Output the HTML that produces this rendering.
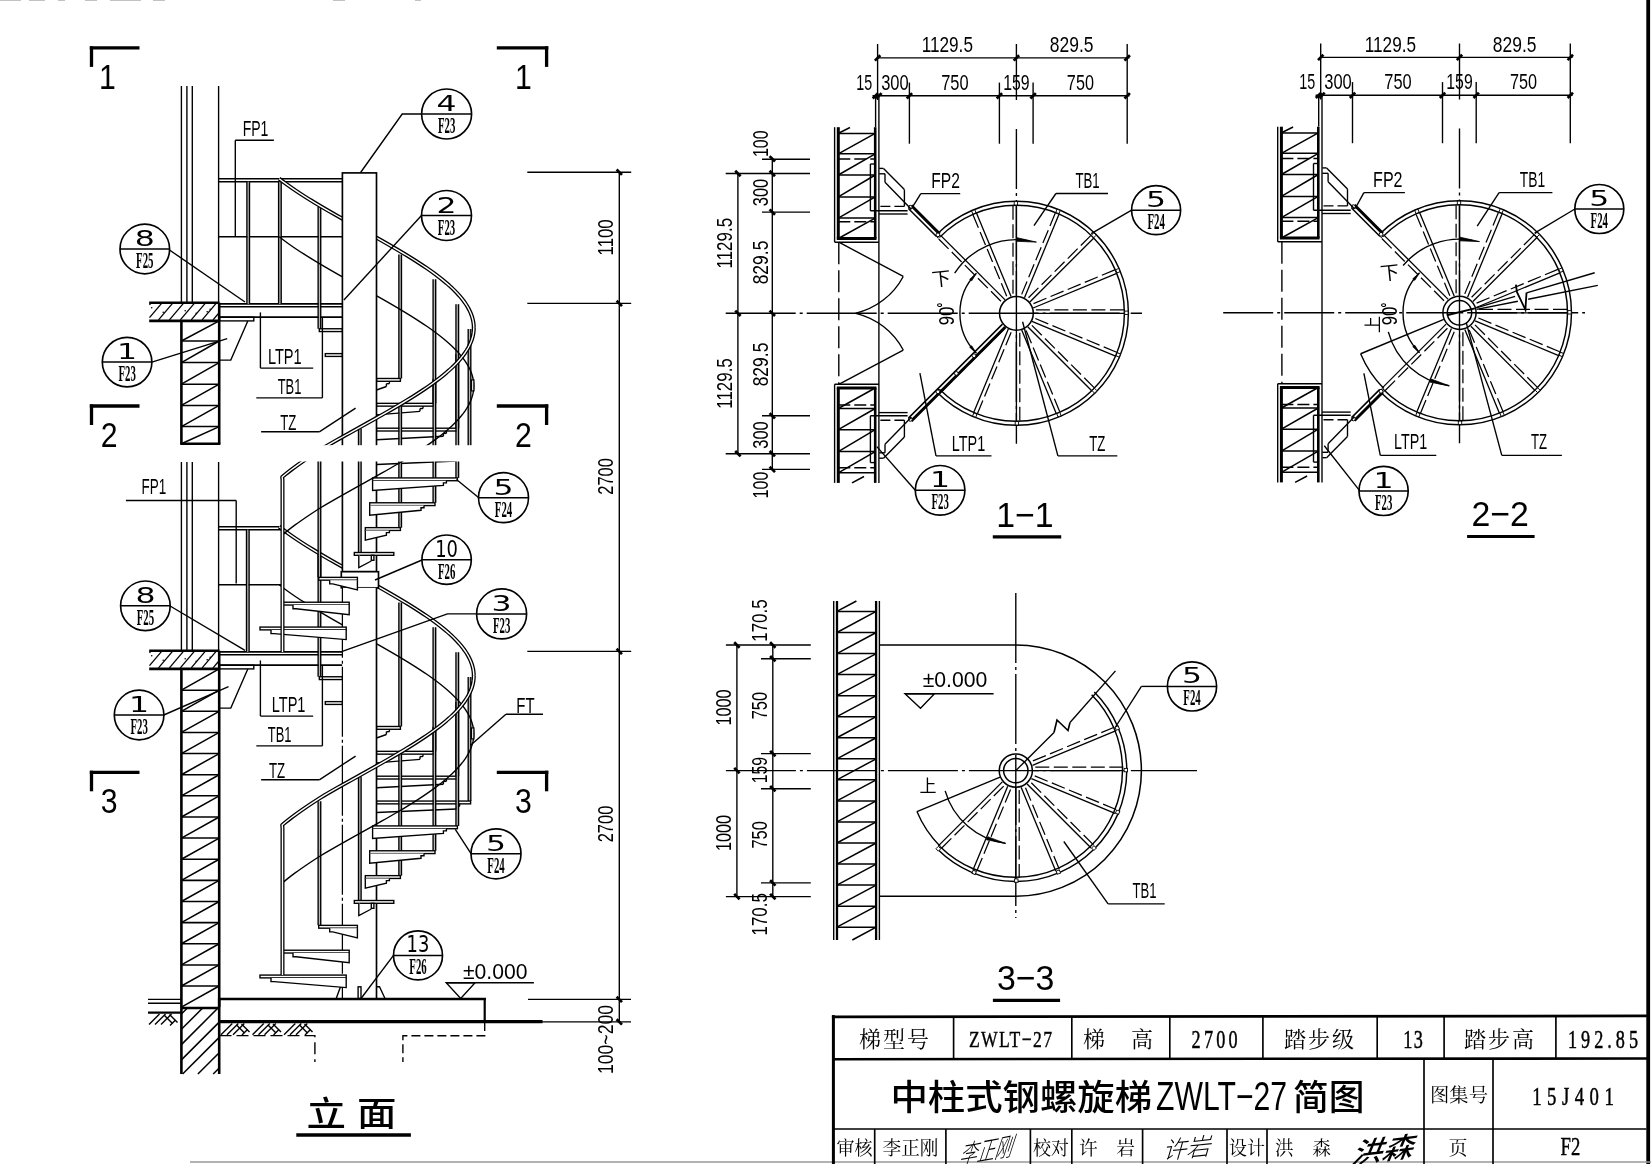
<!DOCTYPE html>
<html lang="zh"><head><meta charset="utf-8"><title>中柱式钢螺旋梯ZWLT-27简图</title>
<style>html,body{margin:0;padding:0;background:#fff;overflow:hidden}svg{display:block;filter:grayscale(1)}text{fill:#000}</style></head>
<body>
<svg width="1651" height="1164" viewBox="0 0 1651 1164" shape-rendering="geometricPrecision">
<rect x="0" y="0" width="1651" height="1164" fill="#fff"/>
<line x1="1648.2" y1="0" x2="1648.2" y2="1164" stroke="#000" stroke-width="3.8"/>
<line x1="190" y1="1162" x2="1651" y2="1162" stroke="#999" stroke-width="1.66"/>
<line x1="0" y1="0" x2="21" y2="0" stroke="#999" stroke-width="1.2"/>
<line x1="29" y1="0" x2="45" y2="0" stroke="#999" stroke-width="1.2"/>
<line x1="58" y1="0" x2="65" y2="0" stroke="#999" stroke-width="1.2"/>
<line x1="85" y1="0" x2="97" y2="0" stroke="#999" stroke-width="1.2"/>
<line x1="110" y1="0" x2="141" y2="0" stroke="#999" stroke-width="1.2"/>
<line x1="153" y1="0" x2="165" y2="0" stroke="#999" stroke-width="1.2"/>
<line x1="333" y1="0" x2="345" y2="0" stroke="#999" stroke-width="1.2"/>
<line x1="415" y1="0" x2="421" y2="0" stroke="#999" stroke-width="1.2"/>
<line x1="149.5" y1="304.88" x2="150.5" y2="303.7" stroke="#000" stroke-width="1.31"/>
<line x1="149.5" y1="317.7" x2="161.4" y2="303.7" stroke="#000" stroke-width="1.31"/>
<line x1="158.53" y1="319.9" x2="172.3" y2="303.7" stroke="#000" stroke-width="1.31"/>
<line x1="169.43" y1="319.9" x2="183.2" y2="303.7" stroke="#000" stroke-width="1.31"/>
<line x1="180.33" y1="319.9" x2="194.1" y2="303.7" stroke="#000" stroke-width="1.31"/>
<line x1="191.23" y1="319.9" x2="205" y2="303.7" stroke="#000" stroke-width="1.31"/>
<line x1="202.13" y1="319.9" x2="215.9" y2="303.7" stroke="#000" stroke-width="1.31"/>
<line x1="213.03" y1="319.9" x2="218.7" y2="313.23" stroke="#000" stroke-width="1.31"/>
<line x1="149.2" y1="302.7" x2="219.5" y2="302.7" stroke="#000" stroke-width="2.6"/>
<line x1="149.2" y1="320.9" x2="219.5" y2="320.9" stroke="#000" stroke-width="2.6"/>
<circle cx="151.7" cy="307.7" r="0.8" fill="#000"/>
<circle cx="163.2" cy="312.2" r="0.8" fill="#000"/>
<circle cx="185.2" cy="310.7" r="0.8" fill="#000"/>
<circle cx="196.2" cy="313.2" r="0.8" fill="#000"/>
<circle cx="210.2" cy="309.2" r="0.8" fill="#000"/>
<circle cx="207.2" cy="311.7" r="0.8" fill="#000"/>
<line x1="181.4" y1="320.9" x2="181.4" y2="443.8" stroke="#000" stroke-width="2.6"/>
<line x1="219.2" y1="302.7" x2="219.2" y2="443.8" stroke="#000" stroke-width="2.6"/>
<line x1="181.4" y1="341" x2="219.2" y2="320.9" stroke="#000" stroke-width="1.52"/>
<line x1="181.4" y1="341" x2="219.2" y2="341" stroke="#000" stroke-width="1.52"/>
<line x1="181.4" y1="362.6" x2="219.2" y2="341" stroke="#000" stroke-width="1.52"/>
<line x1="181.4" y1="362.6" x2="219.2" y2="362.6" stroke="#000" stroke-width="1.52"/>
<line x1="181.4" y1="384.2" x2="219.2" y2="362.6" stroke="#000" stroke-width="1.52"/>
<line x1="181.4" y1="384.2" x2="219.2" y2="384.2" stroke="#000" stroke-width="1.52"/>
<line x1="181.4" y1="405.4" x2="219.2" y2="384.2" stroke="#000" stroke-width="1.52"/>
<line x1="181.4" y1="405.4" x2="219.2" y2="405.4" stroke="#000" stroke-width="1.52"/>
<line x1="181.4" y1="426.6" x2="219.2" y2="405.4" stroke="#000" stroke-width="1.52"/>
<line x1="181.4" y1="426.6" x2="219.2" y2="426.6" stroke="#000" stroke-width="1.52"/>
<line x1="181.4" y1="443.8" x2="219.2" y2="426.6" stroke="#000" stroke-width="1.52"/>
<line x1="149.5" y1="652.88" x2="150.5" y2="651.7" stroke="#000" stroke-width="1.31"/>
<line x1="149.5" y1="665.7" x2="161.4" y2="651.7" stroke="#000" stroke-width="1.31"/>
<line x1="158.53" y1="667.9" x2="172.3" y2="651.7" stroke="#000" stroke-width="1.31"/>
<line x1="169.43" y1="667.9" x2="183.2" y2="651.7" stroke="#000" stroke-width="1.31"/>
<line x1="180.33" y1="667.9" x2="194.1" y2="651.7" stroke="#000" stroke-width="1.31"/>
<line x1="191.23" y1="667.9" x2="205" y2="651.7" stroke="#000" stroke-width="1.31"/>
<line x1="202.13" y1="667.9" x2="215.9" y2="651.7" stroke="#000" stroke-width="1.31"/>
<line x1="213.03" y1="667.9" x2="218.7" y2="661.23" stroke="#000" stroke-width="1.31"/>
<line x1="149.2" y1="650.7" x2="219.5" y2="650.7" stroke="#000" stroke-width="2.6"/>
<line x1="149.2" y1="668.9" x2="219.5" y2="668.9" stroke="#000" stroke-width="2.6"/>
<circle cx="151.7" cy="655.7" r="0.8" fill="#000"/>
<circle cx="163.2" cy="660.2" r="0.8" fill="#000"/>
<circle cx="185.2" cy="658.7" r="0.8" fill="#000"/>
<circle cx="196.2" cy="661.2" r="0.8" fill="#000"/>
<circle cx="210.2" cy="657.2" r="0.8" fill="#000"/>
<circle cx="207.2" cy="659.7" r="0.8" fill="#000"/>
<line x1="181.4" y1="668.9" x2="181.4" y2="1007.2" stroke="#000" stroke-width="2.6"/>
<line x1="219.2" y1="650.7" x2="219.2" y2="1007.2" stroke="#000" stroke-width="2.6"/>
<line x1="181.4" y1="690.2" x2="219.2" y2="668.9" stroke="#000" stroke-width="1.52"/>
<line x1="181.4" y1="690.2" x2="219.2" y2="690.2" stroke="#000" stroke-width="1.52"/>
<line x1="181.4" y1="711.33" x2="219.2" y2="690.2" stroke="#000" stroke-width="1.52"/>
<line x1="181.4" y1="711.33" x2="219.2" y2="711.33" stroke="#000" stroke-width="1.52"/>
<line x1="181.4" y1="732.46" x2="219.2" y2="711.33" stroke="#000" stroke-width="1.52"/>
<line x1="181.4" y1="732.46" x2="219.2" y2="732.46" stroke="#000" stroke-width="1.52"/>
<line x1="181.4" y1="753.59" x2="219.2" y2="732.46" stroke="#000" stroke-width="1.52"/>
<line x1="181.4" y1="753.59" x2="219.2" y2="753.59" stroke="#000" stroke-width="1.52"/>
<line x1="181.4" y1="774.72" x2="219.2" y2="753.59" stroke="#000" stroke-width="1.52"/>
<line x1="181.4" y1="774.72" x2="219.2" y2="774.72" stroke="#000" stroke-width="1.52"/>
<line x1="181.4" y1="795.85" x2="219.2" y2="774.72" stroke="#000" stroke-width="1.52"/>
<line x1="181.4" y1="795.85" x2="219.2" y2="795.85" stroke="#000" stroke-width="1.52"/>
<line x1="181.4" y1="816.98" x2="219.2" y2="795.85" stroke="#000" stroke-width="1.52"/>
<line x1="181.4" y1="816.98" x2="219.2" y2="816.98" stroke="#000" stroke-width="1.52"/>
<line x1="181.4" y1="838.11" x2="219.2" y2="816.98" stroke="#000" stroke-width="1.52"/>
<line x1="181.4" y1="838.11" x2="219.2" y2="838.11" stroke="#000" stroke-width="1.52"/>
<line x1="181.4" y1="859.24" x2="219.2" y2="838.11" stroke="#000" stroke-width="1.52"/>
<line x1="181.4" y1="859.24" x2="219.2" y2="859.24" stroke="#000" stroke-width="1.52"/>
<line x1="181.4" y1="880.37" x2="219.2" y2="859.24" stroke="#000" stroke-width="1.52"/>
<line x1="181.4" y1="880.37" x2="219.2" y2="880.37" stroke="#000" stroke-width="1.52"/>
<line x1="181.4" y1="901.5" x2="219.2" y2="880.37" stroke="#000" stroke-width="1.52"/>
<line x1="181.4" y1="901.5" x2="219.2" y2="901.5" stroke="#000" stroke-width="1.52"/>
<line x1="181.4" y1="922.63" x2="219.2" y2="901.5" stroke="#000" stroke-width="1.52"/>
<line x1="181.4" y1="922.63" x2="219.2" y2="922.63" stroke="#000" stroke-width="1.52"/>
<line x1="181.4" y1="943.76" x2="219.2" y2="922.63" stroke="#000" stroke-width="1.52"/>
<line x1="181.4" y1="943.76" x2="219.2" y2="943.76" stroke="#000" stroke-width="1.52"/>
<line x1="181.4" y1="964.89" x2="219.2" y2="943.76" stroke="#000" stroke-width="1.52"/>
<line x1="181.4" y1="964.89" x2="219.2" y2="964.89" stroke="#000" stroke-width="1.52"/>
<line x1="181.4" y1="986.02" x2="219.2" y2="964.89" stroke="#000" stroke-width="1.52"/>
<line x1="181.4" y1="986.02" x2="219.2" y2="986.02" stroke="#000" stroke-width="1.52"/>
<line x1="181.4" y1="1007.15" x2="219.2" y2="986.02" stroke="#000" stroke-width="1.52"/>
<line x1="180.2" y1="443.8" x2="220.4" y2="443.8" stroke="#000" stroke-width="2.4"/>
<line x1="219" y1="303.9" x2="342.4" y2="303.9" stroke="#000" stroke-width="1.66"/>
<line x1="219" y1="306.8" x2="342.4" y2="306.8" stroke="#000" stroke-width="1.38"/>
<line x1="219" y1="317.2" x2="342.4" y2="317.2" stroke="#000" stroke-width="1.66"/>
<rect x="219.5" y="317.2" width="34.3" height="3.7" fill="none" stroke="#000" stroke-width="1.38"/>
<path d="M247.8 320.9 L230.8 360.1 L219.2 360.1" fill="none" stroke="#000" stroke-width="1.38"/>
<line x1="181.4" y1="86" x2="181.4" y2="302.7" stroke="#000" stroke-width="1.38"/>
<line x1="186.9" y1="86" x2="186.9" y2="302.7" stroke="#000" stroke-width="1.38"/>
<line x1="192.3" y1="86" x2="192.3" y2="302.7" stroke="#000" stroke-width="1.38"/>
<line x1="218.6" y1="86" x2="218.6" y2="303.9" stroke="#000" stroke-width="1.38"/>
<line x1="218.6" y1="178.7" x2="342.4" y2="178.7" stroke="#000" stroke-width="1.52"/>
<line x1="218.6" y1="181.7" x2="342.4" y2="181.7" stroke="#000" stroke-width="1.52"/>
<line x1="218.6" y1="236.8" x2="342.4" y2="236.8" stroke="#000" stroke-width="1.52"/>
<line x1="248.2" y1="181.7" x2="248.2" y2="303.9" stroke="#b8b8b8" stroke-width="1.79"/>
<line x1="246.9" y1="181.7" x2="246.9" y2="303.9" stroke="#000" stroke-width="1.38"/>
<line x1="249.5" y1="181.7" x2="249.5" y2="303.9" stroke="#000" stroke-width="1.38"/>
<line x1="279.9" y1="181.7" x2="279.9" y2="303.9" stroke="#b8b8b8" stroke-width="1.79"/>
<line x1="278.6" y1="181.7" x2="278.6" y2="303.9" stroke="#000" stroke-width="1.38"/>
<line x1="281.2" y1="181.7" x2="281.2" y2="303.9" stroke="#000" stroke-width="1.38"/>
<line x1="219" y1="651.9" x2="342.4" y2="651.9" stroke="#000" stroke-width="1.66"/>
<line x1="219" y1="654.8" x2="342.4" y2="654.8" stroke="#000" stroke-width="1.38"/>
<line x1="219" y1="665.2" x2="342.4" y2="665.2" stroke="#000" stroke-width="1.66"/>
<rect x="219.5" y="665.2" width="34.3" height="3.7" fill="none" stroke="#000" stroke-width="1.38"/>
<path d="M247.8 668.9 L230.8 708.1 L219.2 708.1" fill="none" stroke="#000" stroke-width="1.38"/>
<line x1="181.4" y1="462" x2="181.4" y2="650.7" stroke="#000" stroke-width="1.38"/>
<line x1="186.9" y1="462" x2="186.9" y2="650.7" stroke="#000" stroke-width="1.38"/>
<line x1="192.3" y1="462" x2="192.3" y2="650.7" stroke="#000" stroke-width="1.38"/>
<line x1="218.6" y1="462" x2="218.6" y2="651.9" stroke="#000" stroke-width="1.38"/>
<line x1="218.6" y1="526.7" x2="282" y2="526.7" stroke="#000" stroke-width="1.52"/>
<line x1="218.6" y1="529.7" x2="282" y2="529.7" stroke="#000" stroke-width="1.52"/>
<line x1="218.6" y1="584.8" x2="282" y2="584.8" stroke="#000" stroke-width="1.52"/>
<line x1="247.8" y1="529.7" x2="247.8" y2="651.9" stroke="#b8b8b8" stroke-width="1.79"/>
<line x1="246.5" y1="529.7" x2="246.5" y2="651.9" stroke="#000" stroke-width="1.38"/>
<line x1="249.1" y1="529.7" x2="249.1" y2="651.9" stroke="#000" stroke-width="1.38"/>
<line x1="400.17" y1="254.48" x2="400.17" y2="378.48" stroke="#b8b8b8" stroke-width="1.79"/>
<line x1="398.87" y1="254.48" x2="398.87" y2="378.48" stroke="#000" stroke-width="1.38"/>
<line x1="401.47" y1="254.48" x2="401.47" y2="378.48" stroke="#000" stroke-width="1.38"/>
<line x1="434.4" y1="279.34" x2="434.4" y2="403.34" stroke="#b8b8b8" stroke-width="1.79"/>
<line x1="433.1" y1="279.34" x2="433.1" y2="403.34" stroke="#000" stroke-width="1.38"/>
<line x1="435.7" y1="279.34" x2="435.7" y2="403.34" stroke="#000" stroke-width="1.38"/>
<line x1="457.27" y1="304.2" x2="457.27" y2="428.2" stroke="#b8b8b8" stroke-width="1.79"/>
<line x1="455.97" y1="304.2" x2="455.97" y2="428.2" stroke="#000" stroke-width="1.38"/>
<line x1="458.57" y1="304.2" x2="458.57" y2="428.2" stroke="#000" stroke-width="1.38"/>
<line x1="469.5" y1="329.06" x2="469.5" y2="453.06" stroke="#b8b8b8" stroke-width="1.79"/>
<line x1="468.2" y1="329.06" x2="468.2" y2="453.06" stroke="#000" stroke-width="1.38"/>
<line x1="470.8" y1="329.06" x2="470.8" y2="453.06" stroke="#000" stroke-width="1.38"/>
<line x1="319.43" y1="206.56" x2="319.43" y2="328.76" stroke="#b8b8b8" stroke-width="1.79"/>
<line x1="318.13" y1="206.56" x2="318.13" y2="328.76" stroke="#000" stroke-width="1.38"/>
<line x1="320.73" y1="206.56" x2="320.73" y2="328.76" stroke="#000" stroke-width="1.38"/>
<rect x="319.3" y="328.76" width="23.1" height="2.8" fill="#fff" stroke="#000" stroke-width="1.38"/>
<rect x="325.3" y="353.62" width="17.1" height="2.8" fill="#fff" stroke="#000" stroke-width="1.38"/>
<rect x="376.5" y="378.48" width="23.9" height="2.8" fill="#fff" stroke="#000" stroke-width="1.38"/>
<line x1="376.5" y1="389.98" x2="386.4" y2="386.48" stroke="#000" stroke-width="1.38"/>
<line x1="386.4" y1="386.48" x2="386.4" y2="383.68" stroke="#000" stroke-width="1.38"/>
<line x1="386.4" y1="383.68" x2="389.4" y2="383.68" stroke="#000" stroke-width="1.38"/>
<line x1="389.4" y1="383.68" x2="389.4" y2="381.28" stroke="#000" stroke-width="1.38"/>
<rect x="376.5" y="403.34" width="57.5" height="2.8" fill="#fff" stroke="#000" stroke-width="1.38"/>
<line x1="376.5" y1="414.84" x2="420" y2="411.34" stroke="#000" stroke-width="1.38"/>
<line x1="420" y1="411.34" x2="420" y2="408.54" stroke="#000" stroke-width="1.38"/>
<line x1="420" y1="408.54" x2="423" y2="408.54" stroke="#000" stroke-width="1.38"/>
<line x1="423" y1="408.54" x2="423" y2="406.14" stroke="#000" stroke-width="1.38"/>
<rect x="376.5" y="428.2" width="80.9" height="2.8" fill="#fff" stroke="#000" stroke-width="1.38"/>
<line x1="376.5" y1="439.7" x2="443.4" y2="436.2" stroke="#000" stroke-width="1.38"/>
<line x1="443.4" y1="436.2" x2="443.4" y2="433.4" stroke="#000" stroke-width="1.38"/>
<line x1="443.4" y1="433.4" x2="446.4" y2="433.4" stroke="#000" stroke-width="1.38"/>
<line x1="446.4" y1="433.4" x2="446.4" y2="431" stroke="#000" stroke-width="1.38"/>
<rect x="376.5" y="453.06" width="94.1" height="2.8" fill="#fff" stroke="#000" stroke-width="1.38"/>
<line x1="376.5" y1="464.56" x2="456.6" y2="461.06" stroke="#000" stroke-width="1.38"/>
<line x1="456.6" y1="461.06" x2="456.6" y2="458.26" stroke="#000" stroke-width="1.38"/>
<line x1="456.6" y1="458.26" x2="459.6" y2="458.26" stroke="#000" stroke-width="1.38"/>
<line x1="459.6" y1="458.26" x2="459.6" y2="455.86" stroke="#000" stroke-width="1.38"/>
<path d="M279.19 236.8 L282.42 239.29 L285.76 241.77 L289.22 244.26 L292.79 246.74 L296.46 249.23 L300.24 251.72 L304.1 254.2 L308.05 256.69 L312.07 259.17 L316.17 261.66 L320.34 264.15 L324.57 266.63 L328.86 269.12 L333.19 271.6 L337.56 274.09 L341.97 276.58 L346.4 279.06 L350.86 281.55 L355.32 284.03 L359.8 286.52 L364.28 289.01 L368.74 291.49 L373.2 293.98 L377.63 296.46 L382.04 298.95 L386.41 301.44 L390.74 303.92 L395.03 306.41 L399.26 308.89 L403.43 311.38 L407.53 313.87 L411.55 316.35 L415.5 318.84 L419.36 321.32 L423.14 323.81 L426.81 326.3 L430.38 328.78 L433.84 331.27 L437.18 333.75 L440.41 336.24 L443.51 338.73 L446.49 341.21 L449.33 343.7 L452.03 346.18 L454.59 348.67 L457 351.16 L459.26 353.64 L461.37 356.13 L463.33 358.61 L465.12 361.1 L466.75 363.59 L468.22 366.07 L469.52 368.56 L470.65 371.04 L471.61 373.53 L472.4 376.02 L473.01 378.5 L473.45 380.99 L473.71 383.47 L473.8 385.96" fill="none" stroke="#000" stroke-width="1.38"/>
<path d="M279.19 178.7 L282.42 181.19 L285.76 183.67 L289.22 186.16 L292.79 188.64 L296.46 191.13 L300.24 193.62 L304.1 196.1 L308.05 198.59 L312.07 201.07 L316.17 203.56 L320.34 206.05 L324.57 208.53 L328.86 211.02 L333.19 213.5 L337.56 215.99 L341.97 218.48 L346.4 220.96 L350.86 223.45 L355.32 225.93 L359.8 228.42 L364.28 230.91 L368.74 233.39 L373.2 235.88 L377.63 238.36 L382.04 240.85 L386.41 243.34 L390.74 245.82 L395.03 248.31 L399.26 250.79 L403.43 253.28 L407.53 255.77 L411.55 258.25 L415.5 260.74 L419.36 263.22 L423.14 265.71 L426.81 268.2 L430.38 270.68 L433.84 273.17 L437.18 275.65 L440.41 278.14 L443.51 280.63 L446.49 283.11 L449.33 285.6 L452.03 288.08 L454.59 290.57 L457 293.06 L459.26 295.54 L461.37 298.03 L463.33 300.51 L465.12 303 L466.75 305.49 L468.22 307.97 L469.52 310.46 L470.65 312.94 L471.61 315.43 L472.4 317.92 L473.01 320.4 L473.45 322.89 L473.71 325.37 L473.8 327.86" fill="none" stroke="#000" stroke-width="4" stroke-linejoin="round"/>
<path d="M279.19 178.7 L282.42 181.19 L285.76 183.67 L289.22 186.16 L292.79 188.64 L296.46 191.13 L300.24 193.62 L304.1 196.1 L308.05 198.59 L312.07 201.07 L316.17 203.56 L320.34 206.05 L324.57 208.53 L328.86 211.02 L333.19 213.5 L337.56 215.99 L341.97 218.48 L346.4 220.96 L350.86 223.45 L355.32 225.93 L359.8 228.42 L364.28 230.91 L368.74 233.39 L373.2 235.88 L377.63 238.36 L382.04 240.85 L386.41 243.34 L390.74 245.82 L395.03 248.31 L399.26 250.79 L403.43 253.28 L407.53 255.77 L411.55 258.25 L415.5 260.74 L419.36 263.22 L423.14 265.71 L426.81 268.2 L430.38 270.68 L433.84 273.17 L437.18 275.65 L440.41 278.14 L443.51 280.63 L446.49 283.11 L449.33 285.6 L452.03 288.08 L454.59 290.57 L457 293.06 L459.26 295.54 L461.37 298.03 L463.33 300.51 L465.12 303 L466.75 305.49 L468.22 307.97 L469.52 310.46 L470.65 312.94 L471.61 315.43 L472.4 317.92 L473.01 320.4 L473.45 322.89 L473.71 325.37 L473.8 327.86" fill="none" stroke="#fff" stroke-width="1.4" stroke-linejoin="round"/>
<line x1="400.17" y1="602.48" x2="400.17" y2="726.48" stroke="#b8b8b8" stroke-width="1.79"/>
<line x1="398.87" y1="602.48" x2="398.87" y2="726.48" stroke="#000" stroke-width="1.38"/>
<line x1="401.47" y1="602.48" x2="401.47" y2="726.48" stroke="#000" stroke-width="1.38"/>
<line x1="434.4" y1="627.34" x2="434.4" y2="751.34" stroke="#b8b8b8" stroke-width="1.79"/>
<line x1="433.1" y1="627.34" x2="433.1" y2="751.34" stroke="#000" stroke-width="1.38"/>
<line x1="435.7" y1="627.34" x2="435.7" y2="751.34" stroke="#000" stroke-width="1.38"/>
<line x1="457.27" y1="652.2" x2="457.27" y2="776.2" stroke="#b8b8b8" stroke-width="1.79"/>
<line x1="455.97" y1="652.2" x2="455.97" y2="776.2" stroke="#000" stroke-width="1.38"/>
<line x1="458.57" y1="652.2" x2="458.57" y2="776.2" stroke="#000" stroke-width="1.38"/>
<line x1="469.5" y1="677.06" x2="469.5" y2="801.06" stroke="#b8b8b8" stroke-width="1.79"/>
<line x1="468.2" y1="677.06" x2="468.2" y2="801.06" stroke="#000" stroke-width="1.38"/>
<line x1="470.8" y1="677.06" x2="470.8" y2="801.06" stroke="#000" stroke-width="1.38"/>
<line x1="319.43" y1="554.56" x2="319.43" y2="676.76" stroke="#b8b8b8" stroke-width="1.79"/>
<line x1="318.13" y1="554.56" x2="318.13" y2="676.76" stroke="#000" stroke-width="1.38"/>
<line x1="320.73" y1="554.56" x2="320.73" y2="676.76" stroke="#000" stroke-width="1.38"/>
<rect x="319.3" y="676.76" width="23.1" height="2.8" fill="#fff" stroke="#000" stroke-width="1.38"/>
<rect x="325.3" y="701.62" width="17.1" height="2.8" fill="#fff" stroke="#000" stroke-width="1.38"/>
<rect x="376.5" y="726.48" width="23.9" height="2.8" fill="#fff" stroke="#000" stroke-width="1.38"/>
<line x1="376.5" y1="737.98" x2="386.4" y2="734.48" stroke="#000" stroke-width="1.38"/>
<line x1="386.4" y1="734.48" x2="386.4" y2="731.68" stroke="#000" stroke-width="1.38"/>
<line x1="386.4" y1="731.68" x2="389.4" y2="731.68" stroke="#000" stroke-width="1.38"/>
<line x1="389.4" y1="731.68" x2="389.4" y2="729.28" stroke="#000" stroke-width="1.38"/>
<rect x="376.5" y="751.34" width="57.5" height="2.8" fill="#fff" stroke="#000" stroke-width="1.38"/>
<line x1="376.5" y1="762.84" x2="420" y2="759.34" stroke="#000" stroke-width="1.38"/>
<line x1="420" y1="759.34" x2="420" y2="756.54" stroke="#000" stroke-width="1.38"/>
<line x1="420" y1="756.54" x2="423" y2="756.54" stroke="#000" stroke-width="1.38"/>
<line x1="423" y1="756.54" x2="423" y2="754.14" stroke="#000" stroke-width="1.38"/>
<rect x="376.5" y="776.2" width="80.9" height="2.8" fill="#fff" stroke="#000" stroke-width="1.38"/>
<line x1="376.5" y1="787.7" x2="443.4" y2="784.2" stroke="#000" stroke-width="1.38"/>
<line x1="443.4" y1="784.2" x2="443.4" y2="781.4" stroke="#000" stroke-width="1.38"/>
<line x1="443.4" y1="781.4" x2="446.4" y2="781.4" stroke="#000" stroke-width="1.38"/>
<line x1="446.4" y1="781.4" x2="446.4" y2="779" stroke="#000" stroke-width="1.38"/>
<rect x="376.5" y="801.06" width="94.1" height="2.8" fill="#fff" stroke="#000" stroke-width="1.38"/>
<line x1="376.5" y1="812.56" x2="456.6" y2="809.06" stroke="#000" stroke-width="1.38"/>
<line x1="456.6" y1="809.06" x2="456.6" y2="806.26" stroke="#000" stroke-width="1.38"/>
<line x1="456.6" y1="806.26" x2="459.6" y2="806.26" stroke="#000" stroke-width="1.38"/>
<line x1="459.6" y1="806.26" x2="459.6" y2="803.86" stroke="#000" stroke-width="1.38"/>
<path d="M279.19 584.8 L282.42 587.29 L285.76 589.77 L289.22 592.26 L292.79 594.74 L296.46 597.23 L300.24 599.72 L304.1 602.2 L308.05 604.69 L312.07 607.17 L316.17 609.66 L320.34 612.15 L324.57 614.63 L328.86 617.12 L333.19 619.6 L337.56 622.09 L341.97 624.58 L346.4 627.06 L350.86 629.55 L355.32 632.03 L359.8 634.52 L364.28 637.01 L368.74 639.49 L373.2 641.98 L377.63 644.46 L382.04 646.95 L386.41 649.44 L390.74 651.92 L395.03 654.41 L399.26 656.89 L403.43 659.38 L407.53 661.87 L411.55 664.35 L415.5 666.84 L419.36 669.32 L423.14 671.81 L426.81 674.3 L430.38 676.78 L433.84 679.27 L437.18 681.75 L440.41 684.24 L443.51 686.73 L446.49 689.21 L449.33 691.7 L452.03 694.18 L454.59 696.67 L457 699.16 L459.26 701.64 L461.37 704.13 L463.33 706.61 L465.12 709.1 L466.75 711.59 L468.22 714.07 L469.52 716.56 L470.65 719.04 L471.61 721.53 L472.4 724.02 L473.01 726.5 L473.45 728.99 L473.71 731.47 L473.8 733.96" fill="none" stroke="#000" stroke-width="1.38"/>
<path d="M279.19 526.7 L282.42 529.19 L285.76 531.67 L289.22 534.16 L292.79 536.64 L296.46 539.13 L300.24 541.62 L304.1 544.1 L308.05 546.59 L312.07 549.07 L316.17 551.56 L320.34 554.05 L324.57 556.53 L328.86 559.02 L333.19 561.5 L337.56 563.99 L341.97 566.48 L346.4 568.96 L350.86 571.45 L355.32 573.93 L359.8 576.42 L364.28 578.91 L368.74 581.39 L373.2 583.88 L377.63 586.36 L382.04 588.85 L386.41 591.34 L390.74 593.82 L395.03 596.31 L399.26 598.79 L403.43 601.28 L407.53 603.77 L411.55 606.25 L415.5 608.74 L419.36 611.22 L423.14 613.71 L426.81 616.2 L430.38 618.68 L433.84 621.17 L437.18 623.65 L440.41 626.14 L443.51 628.63 L446.49 631.11 L449.33 633.6 L452.03 636.08 L454.59 638.57 L457 641.06 L459.26 643.54 L461.37 646.03 L463.33 648.51 L465.12 651 L466.75 653.49 L468.22 655.97 L469.52 658.46 L470.65 660.94 L471.61 663.43 L472.4 665.92 L473.01 668.4 L473.45 670.89 L473.71 673.37 L473.8 675.86" fill="none" stroke="#000" stroke-width="4" stroke-linejoin="round"/>
<path d="M279.19 526.7 L282.42 529.19 L285.76 531.67 L289.22 534.16 L292.79 536.64 L296.46 539.13 L300.24 541.62 L304.1 544.1 L308.05 546.59 L312.07 549.07 L316.17 551.56 L320.34 554.05 L324.57 556.53 L328.86 559.02 L333.19 561.5 L337.56 563.99 L341.97 566.48 L346.4 568.96 L350.86 571.45 L355.32 573.93 L359.8 576.42 L364.28 578.91 L368.74 581.39 L373.2 583.88 L377.63 586.36 L382.04 588.85 L386.41 591.34 L390.74 593.82 L395.03 596.31 L399.26 598.79 L403.43 601.28 L407.53 603.77 L411.55 606.25 L415.5 608.74 L419.36 611.22 L423.14 613.71 L426.81 616.2 L430.38 618.68 L433.84 621.17 L437.18 623.65 L440.41 626.14 L443.51 628.63 L446.49 631.11 L449.33 633.6 L452.03 636.08 L454.59 638.57 L457 641.06 L459.26 643.54 L461.37 646.03 L463.33 648.51 L465.12 651 L466.75 653.49 L468.22 655.97 L469.52 658.46 L470.65 660.94 L471.61 663.43 L472.4 665.92 L473.01 668.4 L473.45 670.89 L473.71 673.37 L473.8 675.86" fill="none" stroke="#fff" stroke-width="1.4" stroke-linejoin="round"/>
<rect x="342.4" y="172.9" width="34.1" height="398.8" fill="#fff" stroke="#000" stroke-width="1.66"/>
<rect x="341.3" y="571.7" width="37.2" height="16.1" fill="#fff" stroke="#000" stroke-width="1.66"/>
<rect x="342.4" y="587.8" width="34.1" height="410.7" fill="#fff"/>
<line x1="376.5" y1="587.8" x2="376.5" y2="998.5" stroke="#000" stroke-width="1.66"/>
<line x1="342.4" y1="587.8" x2="342.4" y2="998.5" stroke="#000" stroke-width="1.24" stroke-dasharray="70 3 3 3"/>
<path d="M336.2 998.5 L340.5 986.8 L342.4 986.8" fill="none" stroke="#000" stroke-width="1.38"/>
<path d="M376.5 986.8 L379.5 986.8 L385 998.5" fill="none" stroke="#000" stroke-width="1.38"/>
<rect x="358.1" y="986.8" width="2.9" height="11.7" fill="none" stroke="#000" stroke-width="1.38"/>
<line x1="457.27" y1="353.92" x2="457.27" y2="477.92" stroke="#b8b8b8" stroke-width="1.79"/>
<line x1="455.97" y1="353.92" x2="455.97" y2="477.92" stroke="#000" stroke-width="1.38"/>
<line x1="458.57" y1="353.92" x2="458.57" y2="477.92" stroke="#000" stroke-width="1.38"/>
<line x1="434.4" y1="378.78" x2="434.4" y2="502.78" stroke="#b8b8b8" stroke-width="1.79"/>
<line x1="433.1" y1="378.78" x2="433.1" y2="502.78" stroke="#000" stroke-width="1.38"/>
<line x1="435.7" y1="378.78" x2="435.7" y2="502.78" stroke="#000" stroke-width="1.38"/>
<line x1="400.17" y1="403.64" x2="400.17" y2="527.64" stroke="#b8b8b8" stroke-width="1.79"/>
<line x1="398.87" y1="403.64" x2="398.87" y2="527.64" stroke="#000" stroke-width="1.38"/>
<line x1="401.47" y1="403.64" x2="401.47" y2="527.64" stroke="#000" stroke-width="1.38"/>
<line x1="359.8" y1="428.5" x2="359.8" y2="552.5" stroke="#b8b8b8" stroke-width="1.79"/>
<line x1="358.5" y1="428.5" x2="358.5" y2="552.5" stroke="#000" stroke-width="1.38"/>
<line x1="361.1" y1="428.5" x2="361.1" y2="552.5" stroke="#000" stroke-width="1.38"/>
<line x1="319.43" y1="453.36" x2="319.43" y2="577.36" stroke="#b8b8b8" stroke-width="1.79"/>
<line x1="318.13" y1="453.36" x2="318.13" y2="577.36" stroke="#000" stroke-width="1.38"/>
<line x1="320.73" y1="453.36" x2="320.73" y2="577.36" stroke="#000" stroke-width="1.38"/>
<rect x="372.6" y="477.92" width="84.8" height="2.8" fill="#fff" stroke="#000" stroke-width="1.38"/>
<path d="M372.6 480.72 L372.6 490.42 L443.4 485.42 L443.4 482.92 L446.4 482.92 L446.4 480.72" fill="#fff" stroke="#000" stroke-width="1.38"/>
<rect x="369.7" y="502.78" width="65.3" height="2.8" fill="#fff" stroke="#000" stroke-width="1.38"/>
<path d="M369.7 505.58 L369.7 515.28 L421 510.28 L421 507.78 L424 507.78 L424 505.58" fill="#fff" stroke="#000" stroke-width="1.38"/>
<rect x="365.3" y="527.64" width="35.1" height="2.8" fill="#fff" stroke="#000" stroke-width="1.38"/>
<path d="M365.3 530.44 L365.3 540.14 L386.4 535.14 L386.4 532.64 L389.4 532.64 L389.4 530.44" fill="#fff" stroke="#000" stroke-width="1.38"/>
<rect x="354.3" y="552.5" width="39.5" height="2.8" fill="#fff" stroke="#000" stroke-width="1.38"/>
<path d="M358.8 555.3 L358.8 567.5 L371.3 561" fill="#fff" stroke="#000" stroke-width="1.38"/>
<rect x="371.3" y="555.3" width="2.6" height="5" fill="#fff" stroke="#000" stroke-width="1.38"/>
<rect x="318.7" y="577.36" width="38.7" height="2.8" fill="#fff" stroke="#000" stroke-width="1.38"/>
<path d="M357.4 580.16 L357.4 589.86 L332.7 583.86 L329.7 583.86 L329.7 580.16" fill="#fff" stroke="#000" stroke-width="1.38"/>
<rect x="282" y="602.22" width="67.2" height="2.8" fill="#fff" stroke="#000" stroke-width="1.38"/>
<path d="M349.2 605.02 L349.2 614.72 L296 608.72 L293 608.72 L293 605.02" fill="#fff" stroke="#000" stroke-width="1.38"/>
<rect x="260" y="627.08" width="86.2" height="2.8" fill="#fff" stroke="#000" stroke-width="1.38"/>
<path d="M346.2 629.88 L346.2 639.58 L274 633.58 L271 633.58 L271 629.88" fill="#fff" stroke="#000" stroke-width="1.38"/>
<path d="M473.8 385.96 L473.71 388.45 L473.45 390.93 L473.01 393.42 L472.4 395.9 L471.61 398.39 L470.65 400.88 L469.52 403.36 L468.22 405.85 L466.75 408.33 L465.12 410.82 L463.33 413.31 L461.37 415.79 L459.26 418.28 L457 420.76 L454.59 423.25 L452.03 425.74 L449.33 428.22 L446.49 430.71 L443.51 433.19 L440.41 435.68 L437.18 438.17 L433.84 440.65 L430.38 443.14 L426.81 445.62 L423.14 448.11 L419.36 450.6 L415.5 453.08 L411.55 455.57 L407.53 458.05 L403.43 460.54 L399.26 463.03 L395.03 465.51 L390.74 468 L386.41 470.48 L382.04 472.97 L377.63 475.46 L373.2 477.94 L368.74 480.43 L364.28 482.91 L359.8 485.4 L355.32 487.89 L350.86 490.37 L346.4 492.86 L341.97 495.34 L337.56 497.83 L333.19 500.32 L328.86 502.8 L324.57 505.29 L320.59 507.77 L316.67 510.26 L312.82 512.75 L309.05 515.23 L305.35 517.72 L301.74 520.2 L298.21 522.69 L294.79 525.18 L291.47 527.66 L288.26 530.15 L285.17 532.63 L282.19 535.12" fill="none" stroke="#000" stroke-width="1.38"/>
<path d="M473.8 327.86 L473.71 330.35 L473.45 332.83 L473.01 335.32 L472.4 337.8 L471.61 340.29 L470.65 342.78 L469.52 345.26 L468.22 347.75 L466.75 350.23 L465.12 352.72 L463.33 355.21 L461.37 357.69 L459.26 360.18 L457 362.66 L454.59 365.15 L452.03 367.64 L449.33 370.12 L446.49 372.61 L443.51 375.09 L440.41 377.58 L437.18 380.07 L433.84 382.55 L430.38 385.04 L426.81 387.52 L423.14 390.01 L419.36 392.5 L415.5 394.98 L411.55 397.47 L407.53 399.95 L403.43 402.44 L399.26 404.93 L395.03 407.41 L390.74 409.9 L386.41 412.38 L382.04 414.87 L377.63 417.36 L373.2 419.84 L368.74 422.33 L364.28 424.81 L359.8 427.3 L355.32 429.79 L350.86 432.27 L346.4 434.76 L341.97 437.24 L337.56 439.73 L333.19 442.22 L328.86 444.7 L324.57 447.19 L320.59 449.67 L316.67 452.16 L312.82 454.65 L309.05 457.13 L305.35 459.62 L301.74 462.1 L298.21 464.59 L294.79 467.08 L291.47 469.56 L288.26 472.05 L285.17 474.53 L282.19 477.02 L282.49 480.02 L282.49 651.9" fill="none" stroke="#000" stroke-width="4" stroke-linejoin="round"/>
<path d="M473.8 327.86 L473.71 330.35 L473.45 332.83 L473.01 335.32 L472.4 337.8 L471.61 340.29 L470.65 342.78 L469.52 345.26 L468.22 347.75 L466.75 350.23 L465.12 352.72 L463.33 355.21 L461.37 357.69 L459.26 360.18 L457 362.66 L454.59 365.15 L452.03 367.64 L449.33 370.12 L446.49 372.61 L443.51 375.09 L440.41 377.58 L437.18 380.07 L433.84 382.55 L430.38 385.04 L426.81 387.52 L423.14 390.01 L419.36 392.5 L415.5 394.98 L411.55 397.47 L407.53 399.95 L403.43 402.44 L399.26 404.93 L395.03 407.41 L390.74 409.9 L386.41 412.38 L382.04 414.87 L377.63 417.36 L373.2 419.84 L368.74 422.33 L364.28 424.81 L359.8 427.3 L355.32 429.79 L350.86 432.27 L346.4 434.76 L341.97 437.24 L337.56 439.73 L333.19 442.22 L328.86 444.7 L324.57 447.19 L320.59 449.67 L316.67 452.16 L312.82 454.65 L309.05 457.13 L305.35 459.62 L301.74 462.1 L298.21 464.59 L294.79 467.08 L291.47 469.56 L288.26 472.05 L285.17 474.53 L282.19 477.02 L282.49 480.02 L282.49 651.9" fill="none" stroke="#fff" stroke-width="1.4" stroke-linejoin="round"/>
<rect x="471.5" y="379.9" width="2.4" height="11" fill="#fff" stroke="#000" stroke-width="1.24"/>
<line x1="457.27" y1="701.92" x2="457.27" y2="825.92" stroke="#b8b8b8" stroke-width="1.79"/>
<line x1="455.97" y1="701.92" x2="455.97" y2="825.92" stroke="#000" stroke-width="1.38"/>
<line x1="458.57" y1="701.92" x2="458.57" y2="825.92" stroke="#000" stroke-width="1.38"/>
<line x1="434.4" y1="726.78" x2="434.4" y2="850.78" stroke="#b8b8b8" stroke-width="1.79"/>
<line x1="433.1" y1="726.78" x2="433.1" y2="850.78" stroke="#000" stroke-width="1.38"/>
<line x1="435.7" y1="726.78" x2="435.7" y2="850.78" stroke="#000" stroke-width="1.38"/>
<line x1="400.17" y1="751.64" x2="400.17" y2="875.64" stroke="#b8b8b8" stroke-width="1.79"/>
<line x1="398.87" y1="751.64" x2="398.87" y2="875.64" stroke="#000" stroke-width="1.38"/>
<line x1="401.47" y1="751.64" x2="401.47" y2="875.64" stroke="#000" stroke-width="1.38"/>
<line x1="359.8" y1="776.5" x2="359.8" y2="900.5" stroke="#b8b8b8" stroke-width="1.79"/>
<line x1="358.5" y1="776.5" x2="358.5" y2="900.5" stroke="#000" stroke-width="1.38"/>
<line x1="361.1" y1="776.5" x2="361.1" y2="900.5" stroke="#000" stroke-width="1.38"/>
<line x1="319.43" y1="801.36" x2="319.43" y2="925.36" stroke="#b8b8b8" stroke-width="1.79"/>
<line x1="318.13" y1="801.36" x2="318.13" y2="925.36" stroke="#000" stroke-width="1.38"/>
<line x1="320.73" y1="801.36" x2="320.73" y2="925.36" stroke="#000" stroke-width="1.38"/>
<rect x="372.6" y="825.92" width="84.8" height="2.8" fill="#fff" stroke="#000" stroke-width="1.38"/>
<path d="M372.6 828.72 L372.6 838.42 L443.4 833.42 L443.4 830.92 L446.4 830.92 L446.4 828.72" fill="#fff" stroke="#000" stroke-width="1.38"/>
<rect x="369.7" y="850.78" width="65.3" height="2.8" fill="#fff" stroke="#000" stroke-width="1.38"/>
<path d="M369.7 853.58 L369.7 863.28 L421 858.28 L421 855.78 L424 855.78 L424 853.58" fill="#fff" stroke="#000" stroke-width="1.38"/>
<rect x="365.3" y="875.64" width="35.1" height="2.8" fill="#fff" stroke="#000" stroke-width="1.38"/>
<path d="M365.3 878.44 L365.3 888.14 L386.4 883.14 L386.4 880.64 L389.4 880.64 L389.4 878.44" fill="#fff" stroke="#000" stroke-width="1.38"/>
<rect x="354.3" y="900.5" width="39.5" height="2.8" fill="#fff" stroke="#000" stroke-width="1.38"/>
<path d="M358.8 903.3 L358.8 915.5 L371.3 909" fill="#fff" stroke="#000" stroke-width="1.38"/>
<rect x="371.3" y="903.3" width="2.6" height="5" fill="#fff" stroke="#000" stroke-width="1.38"/>
<rect x="318.7" y="925.36" width="38.7" height="2.8" fill="#fff" stroke="#000" stroke-width="1.38"/>
<path d="M357.4 928.16 L357.4 937.86 L332.7 931.86 L329.7 931.86 L329.7 928.16" fill="#fff" stroke="#000" stroke-width="1.38"/>
<rect x="282" y="950.22" width="67.2" height="2.8" fill="#fff" stroke="#000" stroke-width="1.38"/>
<path d="M349.2 953.02 L349.2 962.72 L296 956.72 L293 956.72 L293 953.02" fill="#fff" stroke="#000" stroke-width="1.38"/>
<rect x="260" y="975.08" width="86.2" height="2.8" fill="#fff" stroke="#000" stroke-width="1.38"/>
<path d="M346.2 977.88 L346.2 987.58 L274 981.58 L271 981.58 L271 977.88" fill="#fff" stroke="#000" stroke-width="1.38"/>
<path d="M473.8 733.96 L473.71 736.45 L473.45 738.93 L473.01 741.42 L472.4 743.9 L471.61 746.39 L470.65 748.88 L469.52 751.36 L468.22 753.85 L466.75 756.33 L465.12 758.82 L463.33 761.31 L461.37 763.79 L459.26 766.28 L457 768.76 L454.59 771.25 L452.03 773.74 L449.33 776.22 L446.49 778.71 L443.51 781.19 L440.41 783.68 L437.18 786.17 L433.84 788.65 L430.38 791.14 L426.81 793.62 L423.14 796.11 L419.36 798.6 L415.5 801.08 L411.55 803.57 L407.53 806.05 L403.43 808.54 L399.26 811.03 L395.03 813.51 L390.74 816 L386.41 818.48 L382.04 820.97 L377.63 823.46 L373.2 825.94 L368.74 828.43 L364.28 830.91 L359.8 833.4 L355.32 835.89 L350.86 838.37 L346.4 840.86 L341.97 843.34 L337.56 845.83 L333.19 848.32 L328.86 850.8 L324.57 853.29 L320.59 855.77 L316.67 858.26 L312.82 860.75 L309.05 863.23 L305.35 865.72 L301.74 868.2 L298.21 870.69 L294.79 873.18 L291.47 875.66 L288.26 878.15 L285.17 880.63 L282.19 883.12" fill="none" stroke="#000" stroke-width="1.38"/>
<path d="M473.8 675.86 L473.71 678.35 L473.45 680.83 L473.01 683.32 L472.4 685.8 L471.61 688.29 L470.65 690.78 L469.52 693.26 L468.22 695.75 L466.75 698.23 L465.12 700.72 L463.33 703.21 L461.37 705.69 L459.26 708.18 L457 710.66 L454.59 713.15 L452.03 715.64 L449.33 718.12 L446.49 720.61 L443.51 723.09 L440.41 725.58 L437.18 728.07 L433.84 730.55 L430.38 733.04 L426.81 735.52 L423.14 738.01 L419.36 740.5 L415.5 742.98 L411.55 745.47 L407.53 747.95 L403.43 750.44 L399.26 752.93 L395.03 755.41 L390.74 757.9 L386.41 760.38 L382.04 762.87 L377.63 765.36 L373.2 767.84 L368.74 770.33 L364.28 772.81 L359.8 775.3 L355.32 777.79 L350.86 780.27 L346.4 782.76 L341.97 785.24 L337.56 787.73 L333.19 790.22 L328.86 792.7 L324.57 795.19 L320.59 797.67 L316.67 800.16 L312.82 802.65 L309.05 805.13 L305.35 807.62 L301.74 810.1 L298.21 812.59 L294.79 815.08 L291.47 817.56 L288.26 820.05 L285.17 822.53 L282.19 825.02 L282.49 828.02 L282.49 975.08" fill="none" stroke="#000" stroke-width="4" stroke-linejoin="round"/>
<path d="M473.8 675.86 L473.71 678.35 L473.45 680.83 L473.01 683.32 L472.4 685.8 L471.61 688.29 L470.65 690.78 L469.52 693.26 L468.22 695.75 L466.75 698.23 L465.12 700.72 L463.33 703.21 L461.37 705.69 L459.26 708.18 L457 710.66 L454.59 713.15 L452.03 715.64 L449.33 718.12 L446.49 720.61 L443.51 723.09 L440.41 725.58 L437.18 728.07 L433.84 730.55 L430.38 733.04 L426.81 735.52 L423.14 738.01 L419.36 740.5 L415.5 742.98 L411.55 745.47 L407.53 747.95 L403.43 750.44 L399.26 752.93 L395.03 755.41 L390.74 757.9 L386.41 760.38 L382.04 762.87 L377.63 765.36 L373.2 767.84 L368.74 770.33 L364.28 772.81 L359.8 775.3 L355.32 777.79 L350.86 780.27 L346.4 782.76 L341.97 785.24 L337.56 787.73 L333.19 790.22 L328.86 792.7 L324.57 795.19 L320.59 797.67 L316.67 800.16 L312.82 802.65 L309.05 805.13 L305.35 807.62 L301.74 810.1 L298.21 812.59 L294.79 815.08 L291.47 817.56 L288.26 820.05 L285.17 822.53 L282.19 825.02 L282.49 828.02 L282.49 975.08" fill="none" stroke="#fff" stroke-width="1.4" stroke-linejoin="round"/>
<rect x="471.5" y="727.9" width="2.4" height="11" fill="#fff" stroke="#000" stroke-width="1.24"/>
<rect x="140" y="445.2" width="345" height="16.3" fill="#fff"/>
<line x1="218.3" y1="999" x2="486" y2="999" stroke="#000" stroke-width="2.5"/>
<line x1="218.3" y1="1021.6" x2="542.5" y2="1021.6" stroke="#000" stroke-width="3.4"/>
<line x1="484.7" y1="999" x2="484.7" y2="1021.6" stroke="#000" stroke-width="2.2"/>
<path d="M484.7 1022 L484.7 1035.7 L402.9 1035.7 L402.9 1062" fill="none" stroke="#000" stroke-width="1.38" stroke-dasharray="9 4"/>
<path d="M219.5 1035.6 L314.9 1035.6 L314.9 1062" fill="none" stroke="#000" stroke-width="1.38" stroke-dasharray="12 5"/>
<line x1="221" y1="1034.7" x2="232.3" y2="1023.4" stroke="#000" stroke-width="1.38"/>
<line x1="227" y1="1034.7" x2="238.3" y2="1023.4" stroke="#000" stroke-width="1.38"/>
<line x1="233" y1="1034.7" x2="244.3" y2="1023.4" stroke="#000" stroke-width="1.38"/>
<line x1="236.5" y1="1024.9" x2="244.5" y2="1032.9" stroke="#000" stroke-width="1.38"/>
<line x1="241.5" y1="1023.9" x2="249.5" y2="1031.9" stroke="#000" stroke-width="1.38"/>
<line x1="242" y1="1034.9" x2="247.5" y2="1029.4" stroke="#000" stroke-width="1.38"/>
<line x1="252.5" y1="1034.7" x2="263.8" y2="1023.4" stroke="#000" stroke-width="1.38"/>
<line x1="258.5" y1="1034.7" x2="269.8" y2="1023.4" stroke="#000" stroke-width="1.38"/>
<line x1="264.5" y1="1034.7" x2="275.8" y2="1023.4" stroke="#000" stroke-width="1.38"/>
<line x1="268" y1="1024.9" x2="276" y2="1032.9" stroke="#000" stroke-width="1.38"/>
<line x1="273" y1="1023.9" x2="281" y2="1031.9" stroke="#000" stroke-width="1.38"/>
<line x1="273.5" y1="1034.9" x2="279" y2="1029.4" stroke="#000" stroke-width="1.38"/>
<line x1="284" y1="1034.7" x2="295.3" y2="1023.4" stroke="#000" stroke-width="1.38"/>
<line x1="290" y1="1034.7" x2="301.3" y2="1023.4" stroke="#000" stroke-width="1.38"/>
<line x1="296" y1="1034.7" x2="307.3" y2="1023.4" stroke="#000" stroke-width="1.38"/>
<line x1="299.5" y1="1024.9" x2="307.5" y2="1032.9" stroke="#000" stroke-width="1.38"/>
<line x1="304.5" y1="1023.9" x2="312.5" y2="1031.9" stroke="#000" stroke-width="1.38"/>
<line x1="305" y1="1034.9" x2="310.5" y2="1029.4" stroke="#000" stroke-width="1.38"/>
<line x1="181.4" y1="1014" x2="187.4" y2="1008" stroke="#000" stroke-width="1.52"/>
<line x1="181.4" y1="1029.3" x2="202.7" y2="1008" stroke="#000" stroke-width="1.52"/>
<line x1="181.4" y1="1044.6" x2="218" y2="1008" stroke="#000" stroke-width="1.52"/>
<line x1="181.4" y1="1059.9" x2="219.2" y2="1022.1" stroke="#000" stroke-width="1.52"/>
<line x1="182.6" y1="1074" x2="219.2" y2="1037.4" stroke="#000" stroke-width="1.52"/>
<line x1="197.9" y1="1074" x2="219.2" y2="1052.7" stroke="#000" stroke-width="1.52"/>
<line x1="213.2" y1="1074" x2="219.2" y2="1068" stroke="#000" stroke-width="1.52"/>
<line x1="181.4" y1="1007" x2="181.4" y2="1074" stroke="#000" stroke-width="2.6"/>
<line x1="219.2" y1="998" x2="219.2" y2="1074" stroke="#000" stroke-width="2.6"/>
<line x1="181.4" y1="1008" x2="219.2" y2="1008" stroke="#000" stroke-width="2.6"/>
<line x1="148" y1="999.4" x2="181" y2="999.4" stroke="#000" stroke-width="1.38"/>
<line x1="148" y1="1003.2" x2="181" y2="1003.2" stroke="#000" stroke-width="1.38"/>
<line x1="148" y1="1012.6" x2="181" y2="1012.6" stroke="#000" stroke-width="2.4"/>
<line x1="149" y1="1024.5" x2="159.5" y2="1014" stroke="#000" stroke-width="1.38"/>
<line x1="155" y1="1024.5" x2="165.5" y2="1014" stroke="#000" stroke-width="1.38"/>
<line x1="161" y1="1024.5" x2="171.5" y2="1014" stroke="#000" stroke-width="1.38"/>
<line x1="164.5" y1="1015.5" x2="172.5" y2="1023.5" stroke="#000" stroke-width="1.38"/>
<line x1="169.5" y1="1014.5" x2="177.5" y2="1022.5" stroke="#000" stroke-width="1.38"/>
<line x1="170" y1="1025.5" x2="175.5" y2="1020" stroke="#000" stroke-width="1.38"/>
<text transform="translate(495.2 978.5)" font-family="&quot;Liberation Sans&quot;, &quot;Noto Sans CJK SC&quot;, sans-serif" font-size="21.5" text-anchor="middle" textLength="64.48" lengthAdjust="spacingAndGlyphs">±0.000</text>
<line x1="446.2" y1="982.7" x2="533.9" y2="982.7" stroke="#000" stroke-width="1.38"/>
<path d="M446.2 982.7 L475.1 982.7 L460.7 998.4 Z" fill="none" stroke="#000" stroke-width="1.38"/>
<text transform="translate(284.8 363.5)" font-family="&quot;Liberation Sans&quot;, &quot;Noto Sans CJK SC&quot;, sans-serif" font-size="21.5" text-anchor="middle" textLength="33.68" lengthAdjust="spacingAndGlyphs">LTP1</text>
<line x1="260.4" y1="368.1" x2="313.2" y2="368.1" stroke="#000" stroke-width="1.38"/>
<line x1="260.4" y1="368.1" x2="260.4" y2="312.4" stroke="#000" stroke-width="1.38"/>
<text transform="translate(289.5 394)" font-family="&quot;Liberation Sans&quot;, &quot;Noto Sans CJK SC&quot;, sans-serif" font-size="21.5" text-anchor="middle" textLength="23.69" lengthAdjust="spacingAndGlyphs">TB1</text>
<line x1="256.3" y1="397.9" x2="322.4" y2="397.9" stroke="#000" stroke-width="1.38"/>
<line x1="322.4" y1="397.9" x2="322.4" y2="317.2" stroke="#000" stroke-width="1.38"/>
<text transform="translate(288.3 430)" font-family="&quot;Liberation Sans&quot;, &quot;Noto Sans CJK SC&quot;, sans-serif" font-size="21.5" text-anchor="middle" textLength="16.17" lengthAdjust="spacingAndGlyphs">TZ</text>
<line x1="261.1" y1="431.8" x2="319.3" y2="431.8" stroke="#000" stroke-width="1.38"/>
<line x1="319.3" y1="431.8" x2="355.6" y2="408.1" stroke="#000" stroke-width="1.38"/>
<text transform="translate(288.6 711.5)" font-family="&quot;Liberation Sans&quot;, &quot;Noto Sans CJK SC&quot;, sans-serif" font-size="21.5" text-anchor="middle" textLength="33.68" lengthAdjust="spacingAndGlyphs">LTP1</text>
<line x1="260.4" y1="716.1" x2="313.2" y2="716.1" stroke="#000" stroke-width="1.38"/>
<line x1="260.4" y1="716.1" x2="260.4" y2="660.4" stroke="#000" stroke-width="1.38"/>
<text transform="translate(279.6 742)" font-family="&quot;Liberation Sans&quot;, &quot;Noto Sans CJK SC&quot;, sans-serif" font-size="21.5" text-anchor="middle" textLength="23.69" lengthAdjust="spacingAndGlyphs">TB1</text>
<line x1="256.3" y1="745.9" x2="322.4" y2="745.9" stroke="#000" stroke-width="1.38"/>
<line x1="322.4" y1="745.9" x2="322.4" y2="665.2" stroke="#000" stroke-width="1.38"/>
<text transform="translate(277 778)" font-family="&quot;Liberation Sans&quot;, &quot;Noto Sans CJK SC&quot;, sans-serif" font-size="21.5" text-anchor="middle" textLength="16.17" lengthAdjust="spacingAndGlyphs">TZ</text>
<line x1="261.1" y1="779.8" x2="319.3" y2="779.8" stroke="#000" stroke-width="1.38"/>
<line x1="319.3" y1="779.8" x2="355.6" y2="756.1" stroke="#000" stroke-width="1.38"/>
<text transform="translate(255.5 136.3)" font-family="&quot;Liberation Sans&quot;, &quot;Noto Sans CJK SC&quot;, sans-serif" font-size="21.5" text-anchor="middle" textLength="25.75" lengthAdjust="spacingAndGlyphs">FP1</text>
<line x1="235.2" y1="140.2" x2="273.9" y2="140.2" stroke="#000" stroke-width="1.38"/>
<line x1="235.3" y1="140.2" x2="235.3" y2="236.4" stroke="#000" stroke-width="1.38"/>
<text transform="translate(153.9 494.4)" font-family="&quot;Liberation Sans&quot;, &quot;Noto Sans CJK SC&quot;, sans-serif" font-size="21.5" text-anchor="middle" textLength="24.72" lengthAdjust="spacingAndGlyphs">FP1</text>
<line x1="125.9" y1="500.5" x2="236.2" y2="500.5" stroke="#000" stroke-width="1.38"/>
<line x1="236.2" y1="500.5" x2="236.2" y2="583.5" stroke="#000" stroke-width="1.38"/>
<circle cx="446.6" cy="114" r="25" fill="none" stroke="#000" stroke-width="1.66"/>
<line x1="421.6" y1="114" x2="471.6" y2="114" stroke="#000" stroke-width="1.52"/>
<text transform="translate(446.6 111) scale(1.5 1)" font-family="&quot;DejaVu Sans&quot;, &quot;Liberation Sans&quot;, sans-serif" font-size="21" text-anchor="middle">4</text>
<text transform="translate(446.6 133) scale(0.45 1)" font-family="&quot;Liberation Serif&quot;, &quot;Noto Serif CJK SC&quot;, serif" font-size="24" text-anchor="middle" font-weight="bold">F23</text>
<path d="M421.6 114 L402.2 114 L360.6 172.5" fill="none" stroke="#000" stroke-width="1.38"/>
<circle cx="446.5" cy="215.5" r="25" fill="none" stroke="#000" stroke-width="1.66"/>
<line x1="421.5" y1="215.5" x2="471.5" y2="215.5" stroke="#000" stroke-width="1.52"/>
<text transform="translate(446.5 212.5) scale(1.5 1)" font-family="&quot;DejaVu Sans&quot;, &quot;Liberation Sans&quot;, sans-serif" font-size="21" text-anchor="middle">2</text>
<text transform="translate(446.5 234.5) scale(0.45 1)" font-family="&quot;Liberation Serif&quot;, &quot;Noto Serif CJK SC&quot;, serif" font-size="24" text-anchor="middle" font-weight="bold">F23</text>
<line x1="421.5" y1="215.5" x2="343.9" y2="300" stroke="#000" stroke-width="1.38"/>
<circle cx="144.8" cy="249" r="24.8" fill="none" stroke="#000" stroke-width="1.66"/>
<line x1="120" y1="249" x2="169.6" y2="249" stroke="#000" stroke-width="1.52"/>
<text transform="translate(144.8 246) scale(1.5 1)" font-family="&quot;DejaVu Sans&quot;, &quot;Liberation Sans&quot;, sans-serif" font-size="21" text-anchor="middle">8</text>
<text transform="translate(144.8 268) scale(0.45 1)" font-family="&quot;Liberation Serif&quot;, &quot;Noto Serif CJK SC&quot;, serif" font-size="24" text-anchor="middle" font-weight="bold">F25</text>
<line x1="169.5" y1="250" x2="245" y2="302" stroke="#000" stroke-width="1.38"/>
<circle cx="127.1" cy="362.1" r="24.8" fill="none" stroke="#000" stroke-width="1.66"/>
<line x1="102.3" y1="362.1" x2="151.9" y2="362.1" stroke="#000" stroke-width="1.52"/>
<text transform="translate(127.1 359.1) scale(1.5 1)" font-family="&quot;DejaVu Sans&quot;, &quot;Liberation Sans&quot;, sans-serif" font-size="21" text-anchor="middle">1</text>
<text transform="translate(127.1 381.1) scale(0.45 1)" font-family="&quot;Liberation Serif&quot;, &quot;Noto Serif CJK SC&quot;, serif" font-size="24" text-anchor="middle" font-weight="bold">F23</text>
<line x1="151.9" y1="362.1" x2="227.2" y2="338.6" stroke="#000" stroke-width="1.38"/>
<circle cx="145.4" cy="605.8" r="24.8" fill="none" stroke="#000" stroke-width="1.66"/>
<line x1="120.6" y1="605.8" x2="170.2" y2="605.8" stroke="#000" stroke-width="1.52"/>
<text transform="translate(145.4 602.8) scale(1.5 1)" font-family="&quot;DejaVu Sans&quot;, &quot;Liberation Sans&quot;, sans-serif" font-size="21" text-anchor="middle">8</text>
<text transform="translate(145.4 624.8) scale(0.45 1)" font-family="&quot;Liberation Serif&quot;, &quot;Noto Serif CJK SC&quot;, serif" font-size="24" text-anchor="middle" font-weight="bold">F25</text>
<line x1="170.1" y1="606" x2="245" y2="650.3" stroke="#000" stroke-width="1.38"/>
<circle cx="139.1" cy="715" r="24.8" fill="none" stroke="#000" stroke-width="1.66"/>
<line x1="114.3" y1="715" x2="163.9" y2="715" stroke="#000" stroke-width="1.52"/>
<text transform="translate(139.1 712) scale(1.5 1)" font-family="&quot;DejaVu Sans&quot;, &quot;Liberation Sans&quot;, sans-serif" font-size="21" text-anchor="middle">1</text>
<text transform="translate(139.1 734) scale(0.45 1)" font-family="&quot;Liberation Serif&quot;, &quot;Noto Serif CJK SC&quot;, serif" font-size="24" text-anchor="middle" font-weight="bold">F23</text>
<line x1="163.8" y1="715" x2="228.5" y2="686.6" stroke="#000" stroke-width="1.38"/>
<circle cx="503.5" cy="497.7" r="25" fill="none" stroke="#000" stroke-width="1.66"/>
<line x1="478.5" y1="497.7" x2="528.5" y2="497.7" stroke="#000" stroke-width="1.52"/>
<text transform="translate(503.5 494.7) scale(1.5 1)" font-family="&quot;DejaVu Sans&quot;, &quot;Liberation Sans&quot;, sans-serif" font-size="21" text-anchor="middle">5</text>
<text transform="translate(503.5 516.7) scale(0.45 1)" font-family="&quot;Liberation Serif&quot;, &quot;Noto Serif CJK SC&quot;, serif" font-size="24" text-anchor="middle" font-weight="bold">F24</text>
<line x1="456.5" y1="479.5" x2="478.8" y2="497.7" stroke="#000" stroke-width="1.38"/>
<circle cx="446.6" cy="559.7" r="24.7" fill="none" stroke="#000" stroke-width="1.66"/>
<line x1="421.9" y1="559.7" x2="471.3" y2="559.7" stroke="#000" stroke-width="1.52"/>
<text transform="translate(446.6 556.7) scale(0.78 1)" font-family="&quot;DejaVu Sans&quot;, &quot;Liberation Sans&quot;, sans-serif" font-size="23" text-anchor="middle">10</text>
<text transform="translate(446.6 578.7) scale(0.45 1)" font-family="&quot;Liberation Serif&quot;, &quot;Noto Serif CJK SC&quot;, serif" font-size="24" text-anchor="middle" font-weight="bold">F26</text>
<line x1="422" y1="560" x2="375" y2="580" stroke="#000" stroke-width="1.38"/>
<circle cx="501.6" cy="613.9" r="25" fill="none" stroke="#000" stroke-width="1.66"/>
<line x1="476.6" y1="613.9" x2="526.6" y2="613.9" stroke="#000" stroke-width="1.52"/>
<text transform="translate(501.6 610.9) scale(1.5 1)" font-family="&quot;DejaVu Sans&quot;, &quot;Liberation Sans&quot;, sans-serif" font-size="21" text-anchor="middle">3</text>
<text transform="translate(501.6 632.9) scale(0.45 1)" font-family="&quot;Liberation Serif&quot;, &quot;Noto Serif CJK SC&quot;, serif" font-size="24" text-anchor="middle" font-weight="bold">F23</text>
<path d="M476.6 613.9 L447.4 613.9 L342.3 651.3" fill="none" stroke="#000" stroke-width="1.38"/>
<text transform="translate(525.5 712.7)" font-family="&quot;Liberation Sans&quot;, &quot;Noto Sans CJK SC&quot;, sans-serif" font-size="21.5" text-anchor="middle" textLength="18.33" lengthAdjust="spacingAndGlyphs">FT</text>
<line x1="505.9" y1="714.2" x2="543" y2="714.2" stroke="#000" stroke-width="1.38"/>
<line x1="505.9" y1="714.2" x2="470.3" y2="745.5" stroke="#000" stroke-width="1.38"/>
<circle cx="496" cy="853.8" r="25" fill="none" stroke="#000" stroke-width="1.66"/>
<line x1="471" y1="853.8" x2="521" y2="853.8" stroke="#000" stroke-width="1.52"/>
<text transform="translate(496 850.8) scale(1.5 1)" font-family="&quot;DejaVu Sans&quot;, &quot;Liberation Sans&quot;, sans-serif" font-size="21" text-anchor="middle">5</text>
<text transform="translate(496 872.8) scale(0.45 1)" font-family="&quot;Liberation Serif&quot;, &quot;Noto Serif CJK SC&quot;, serif" font-size="24" text-anchor="middle" font-weight="bold">F24</text>
<line x1="455.3" y1="829.3" x2="471.2" y2="853.8" stroke="#000" stroke-width="1.38"/>
<circle cx="418" cy="955.4" r="24.5" fill="none" stroke="#000" stroke-width="1.66"/>
<line x1="393.5" y1="955.4" x2="442.5" y2="955.4" stroke="#000" stroke-width="1.52"/>
<text transform="translate(418 952.4) scale(0.78 1)" font-family="&quot;DejaVu Sans&quot;, &quot;Liberation Sans&quot;, sans-serif" font-size="23" text-anchor="middle">13</text>
<text transform="translate(418 974.4) scale(0.45 1)" font-family="&quot;Liberation Serif&quot;, &quot;Noto Serif CJK SC&quot;, serif" font-size="24" text-anchor="middle" font-weight="bold">F26</text>
<line x1="393.5" y1="955.4" x2="361" y2="998.5" stroke="#000" stroke-width="1.38"/>
<line x1="619.3" y1="172.2" x2="619.3" y2="1022" stroke="#000" stroke-width="1.38"/>
<line x1="616.6" y1="169.5" x2="622" y2="174.9" stroke="#000" stroke-width="2.7"/>
<line x1="616.6" y1="300.7" x2="622" y2="306.1" stroke="#000" stroke-width="2.7"/>
<line x1="616.6" y1="648.7" x2="622" y2="654.1" stroke="#000" stroke-width="2.7"/>
<line x1="616.6" y1="996.7" x2="622" y2="1002.1" stroke="#000" stroke-width="2.7"/>
<line x1="616.6" y1="1019.2" x2="622" y2="1024.6" stroke="#000" stroke-width="2.7"/>
<line x1="527.3" y1="172.2" x2="631.2" y2="172.2" stroke="#000" stroke-width="1.38"/>
<line x1="527.3" y1="303.4" x2="631.2" y2="303.4" stroke="#000" stroke-width="1.38"/>
<line x1="527.3" y1="651.4" x2="631.2" y2="651.4" stroke="#000" stroke-width="1.38"/>
<line x1="528" y1="999.4" x2="631" y2="999.4" stroke="#000" stroke-width="1.38"/>
<line x1="542" y1="1021.9" x2="631" y2="1021.9" stroke="#000" stroke-width="1.38"/>
<text transform="translate(613 237.4) rotate(-90)" font-family="&quot;Liberation Sans&quot;, &quot;Noto Sans CJK SC&quot;, sans-serif" font-size="21.5" text-anchor="middle" textLength="36.05" lengthAdjust="spacingAndGlyphs">1100</text>
<text transform="translate(613 476.4) rotate(-90)" font-family="&quot;Liberation Sans&quot;, &quot;Noto Sans CJK SC&quot;, sans-serif" font-size="21.5" text-anchor="middle" textLength="36.56" lengthAdjust="spacingAndGlyphs">2700</text>
<text transform="translate(613 824) rotate(-90)" font-family="&quot;Liberation Sans&quot;, &quot;Noto Sans CJK SC&quot;, sans-serif" font-size="21.5" text-anchor="middle" textLength="36.56" lengthAdjust="spacingAndGlyphs">2700</text>
<text transform="translate(613 1039.5) rotate(-90)" font-family="&quot;Liberation Sans&quot;, &quot;Noto Sans CJK SC&quot;, sans-serif" font-size="21.5" text-anchor="middle" textLength="69.01" lengthAdjust="spacingAndGlyphs">100~200</text>
<line x1="89.8" y1="47.9" x2="139.5" y2="47.9" stroke="#000" stroke-width="3.3"/>
<line x1="91.5" y1="46.3" x2="91.5" y2="66.9" stroke="#000" stroke-width="3.3"/>
<text transform="translate(107.5 88.7) scale(0.84 1)" font-family="&quot;Liberation Sans&quot;, &quot;Noto Sans CJK SC&quot;, sans-serif" font-size="36" text-anchor="middle">1</text>
<line x1="496.8" y1="47.9" x2="548.3" y2="47.9" stroke="#000" stroke-width="3.3"/>
<line x1="546.6" y1="46.3" x2="546.6" y2="66.9" stroke="#000" stroke-width="3.3"/>
<text transform="translate(523.5 88.7) scale(0.84 1)" font-family="&quot;Liberation Sans&quot;, &quot;Noto Sans CJK SC&quot;, sans-serif" font-size="36" text-anchor="middle">1</text>
<line x1="89.8" y1="406" x2="139.5" y2="406" stroke="#000" stroke-width="3.3"/>
<line x1="91.5" y1="404.4" x2="91.5" y2="425" stroke="#000" stroke-width="3.3"/>
<text transform="translate(109.2 446.8) scale(0.84 1)" font-family="&quot;Liberation Sans&quot;, &quot;Noto Sans CJK SC&quot;, sans-serif" font-size="36" text-anchor="middle">2</text>
<line x1="496.8" y1="406" x2="548.3" y2="406" stroke="#000" stroke-width="3.3"/>
<line x1="546.6" y1="404.4" x2="546.6" y2="425" stroke="#000" stroke-width="3.3"/>
<text transform="translate(523.5 446.8) scale(0.84 1)" font-family="&quot;Liberation Sans&quot;, &quot;Noto Sans CJK SC&quot;, sans-serif" font-size="36" text-anchor="middle">2</text>
<line x1="89.8" y1="772.3" x2="139.5" y2="772.3" stroke="#000" stroke-width="3.3"/>
<line x1="91.5" y1="770.7" x2="91.5" y2="791.3" stroke="#000" stroke-width="3.3"/>
<text transform="translate(109.2 813.1) scale(0.84 1)" font-family="&quot;Liberation Sans&quot;, &quot;Noto Sans CJK SC&quot;, sans-serif" font-size="36" text-anchor="middle">3</text>
<line x1="496.8" y1="772.3" x2="548.3" y2="772.3" stroke="#000" stroke-width="3.3"/>
<line x1="546.6" y1="770.7" x2="546.6" y2="791.3" stroke="#000" stroke-width="3.3"/>
<text transform="translate(523.5 813.1) scale(0.84 1)" font-family="&quot;Liberation Sans&quot;, &quot;Noto Sans CJK SC&quot;, sans-serif" font-size="36" text-anchor="middle">3</text>
<text transform="translate(351.5 1125.5)" font-family="&quot;Liberation Sans&quot;, &quot;Noto Sans CJK SC&quot;, sans-serif" font-size="34" text-anchor="middle" font-weight="500" textLength="90" lengthAdjust="spacingAndGlyphs">立 面</text>
<line x1="296.3" y1="1134.9" x2="410.9" y2="1134.9" stroke="#000" stroke-width="3.5"/>
<line x1="877.6" y1="57.9" x2="1129.5" y2="57.9" stroke="#000" stroke-width="1.38"/>
<line x1="872.5" y1="95.8" x2="1129.5" y2="95.8" stroke="#000" stroke-width="1.38"/>
<line x1="874.9" y1="60.6" x2="880.3" y2="55.2" stroke="#000" stroke-width="2.7"/>
<line x1="1013.7" y1="60.6" x2="1019.1" y2="55.2" stroke="#000" stroke-width="2.7"/>
<line x1="1124.5" y1="60.6" x2="1129.9" y2="55.2" stroke="#000" stroke-width="2.7"/>
<line x1="872.7" y1="98.5" x2="878.1" y2="93.1" stroke="#000" stroke-width="2.7"/>
<line x1="876.2" y1="98.5" x2="881.6" y2="93.1" stroke="#000" stroke-width="2.7"/>
<line x1="906.7" y1="98.5" x2="912.1" y2="93.1" stroke="#000" stroke-width="2.7"/>
<line x1="996.7" y1="98.5" x2="1002.1" y2="93.1" stroke="#000" stroke-width="2.7"/>
<line x1="1030.4" y1="98.5" x2="1035.8" y2="93.1" stroke="#000" stroke-width="2.7"/>
<line x1="1124.5" y1="98.5" x2="1129.9" y2="93.1" stroke="#000" stroke-width="2.7"/>
<line x1="877.6" y1="44" x2="877.6" y2="100" stroke="#000" stroke-width="1.38"/>
<line x1="1127.2" y1="44" x2="1127.2" y2="143.7" stroke="#000" stroke-width="1.38"/>
<line x1="1016.4" y1="44" x2="1016.4" y2="100" stroke="#000" stroke-width="1.38"/>
<line x1="909.4" y1="82.6" x2="909.4" y2="143.7" stroke="#000" stroke-width="1.38"/>
<line x1="999.4" y1="82.6" x2="999.4" y2="143.7" stroke="#000" stroke-width="1.38"/>
<line x1="1033.1" y1="82.6" x2="1033.1" y2="143.7" stroke="#000" stroke-width="1.38"/>
<text transform="translate(947.3 52.3)" font-family="&quot;Liberation Sans&quot;, &quot;Noto Sans CJK SC&quot;, sans-serif" font-size="21.5" text-anchor="middle" textLength="51.29" lengthAdjust="spacingAndGlyphs">1129.5</text>
<text transform="translate(1071.6 52.3)" font-family="&quot;Liberation Sans&quot;, &quot;Noto Sans CJK SC&quot;, sans-serif" font-size="21.5" text-anchor="middle" textLength="43.67" lengthAdjust="spacingAndGlyphs">829.5</text>
<text transform="translate(864.2 89.5)" font-family="&quot;Liberation Sans&quot;, &quot;Noto Sans CJK SC&quot;, sans-serif" font-size="21.5" text-anchor="middle" textLength="15.96" lengthAdjust="spacingAndGlyphs">15</text>
<text transform="translate(894.9 89.5)" font-family="&quot;Liberation Sans&quot;, &quot;Noto Sans CJK SC&quot;, sans-serif" font-size="21.5" text-anchor="middle" textLength="27.5" lengthAdjust="spacingAndGlyphs">300</text>
<text transform="translate(954.9 89.5)" font-family="&quot;Liberation Sans&quot;, &quot;Noto Sans CJK SC&quot;, sans-serif" font-size="21.5" text-anchor="middle" textLength="27.4" lengthAdjust="spacingAndGlyphs">750</text>
<text transform="translate(1016.4 89.5)" font-family="&quot;Liberation Sans&quot;, &quot;Noto Sans CJK SC&quot;, sans-serif" font-size="21.5" text-anchor="middle" textLength="26.37" lengthAdjust="spacingAndGlyphs">159</text>
<text transform="translate(1080.4 89.5)" font-family="&quot;Liberation Sans&quot;, &quot;Noto Sans CJK SC&quot;, sans-serif" font-size="21.5" text-anchor="middle" textLength="27.09" lengthAdjust="spacingAndGlyphs">750</text>
<line x1="875.6" y1="95.8" x2="875.6" y2="127" stroke="#000" stroke-width="1.38"/>
<line x1="878.9" y1="95.8" x2="878.9" y2="482.9" stroke="#000" stroke-width="1.38"/>
<line x1="1016.4" y1="129" x2="1016.4" y2="443.7" stroke="#000" stroke-width="1.38" stroke-dasharray="60 4 3 4"/>
<line x1="834.6" y1="127.2" x2="834.6" y2="242.2" stroke="#000" stroke-width="1.38"/>
<line x1="834.6" y1="242.2" x2="878.9" y2="242.2" stroke="#000" stroke-width="1.38"/>
<line x1="838.3" y1="127.2" x2="838.3" y2="238.5" stroke="#000" stroke-width="3"/>
<line x1="875.2" y1="127.2" x2="875.2" y2="238.5" stroke="#000" stroke-width="2.6"/>
<line x1="836.8" y1="238.5" x2="876.5" y2="238.5" stroke="#000" stroke-width="3"/>
<line x1="838.3" y1="133.4" x2="875.2" y2="133.4" stroke="#000" stroke-width="1.52"/>
<line x1="838.3" y1="153.8" x2="875.2" y2="133.4" stroke="#000" stroke-width="1.52"/>
<line x1="838.3" y1="153.8" x2="875.2" y2="153.8" stroke="#000" stroke-width="1.52"/>
<line x1="838.3" y1="175" x2="875.2" y2="153.8" stroke="#000" stroke-width="1.52"/>
<line x1="838.3" y1="175" x2="875.2" y2="175" stroke="#000" stroke-width="1.52"/>
<line x1="838.3" y1="196.9" x2="875.2" y2="175" stroke="#000" stroke-width="1.52"/>
<line x1="838.3" y1="196.9" x2="875.2" y2="196.9" stroke="#000" stroke-width="1.52"/>
<line x1="838.3" y1="218.1" x2="875.2" y2="196.9" stroke="#000" stroke-width="1.52"/>
<line x1="838.3" y1="218.1" x2="875.2" y2="218.1" stroke="#000" stroke-width="1.52"/>
<line x1="838.3" y1="238.5" x2="875.2" y2="218.1" stroke="#000" stroke-width="1.52"/>
<line x1="839" y1="133" x2="850" y2="127.5" stroke="#000" stroke-width="1.52"/>
<line x1="838.3" y1="158.9" x2="875.2" y2="158.9" stroke="#000" stroke-width="1.52" stroke-dasharray="12 4"/>
<line x1="838.3" y1="221.7" x2="875.2" y2="221.7" stroke="#000" stroke-width="1.52" stroke-dasharray="12 4"/>
<line x1="834.6" y1="384.3" x2="834.6" y2="482.9" stroke="#000" stroke-width="1.38"/>
<line x1="834.6" y1="384.3" x2="878.9" y2="384.3" stroke="#000" stroke-width="1.38"/>
<line x1="838.3" y1="388" x2="838.3" y2="482.9" stroke="#000" stroke-width="3"/>
<line x1="875.2" y1="388" x2="875.2" y2="482.9" stroke="#000" stroke-width="2.6"/>
<line x1="836.8" y1="388" x2="876.5" y2="388" stroke="#000" stroke-width="3"/>
<line x1="838.3" y1="408.5" x2="875.2" y2="408.5" stroke="#000" stroke-width="1.52"/>
<line x1="838.3" y1="408.5" x2="875.2" y2="388" stroke="#000" stroke-width="1.52"/>
<line x1="838.3" y1="429.7" x2="875.2" y2="429.7" stroke="#000" stroke-width="1.52"/>
<line x1="838.3" y1="429.7" x2="875.2" y2="408.5" stroke="#000" stroke-width="1.52"/>
<line x1="838.3" y1="451.6" x2="875.2" y2="451.6" stroke="#000" stroke-width="1.52"/>
<line x1="838.3" y1="451.6" x2="875.2" y2="429.7" stroke="#000" stroke-width="1.52"/>
<line x1="838.3" y1="472.8" x2="875.2" y2="472.8" stroke="#000" stroke-width="1.52"/>
<line x1="838.3" y1="472.8" x2="875.2" y2="451.6" stroke="#000" stroke-width="1.52"/>
<line x1="852" y1="482.9" x2="864" y2="476.5" stroke="#000" stroke-width="1.52"/>
<line x1="838.3" y1="404.9" x2="875.2" y2="404.9" stroke="#000" stroke-width="1.52" stroke-dasharray="12 4"/>
<line x1="838.3" y1="467.7" x2="875.2" y2="467.7" stroke="#000" stroke-width="1.52" stroke-dasharray="12 4"/>
<line x1="838.8" y1="242.2" x2="838.8" y2="384.3" stroke="#000" stroke-width="1.38" stroke-dasharray="22 6"/>
<path d="M937.2 234.1 A112 112 0 1 1 937.2 392.5" fill="none" stroke="#000" stroke-width="1.45"/>
<path d="M940.03 236.93 A108 108 0 1 1 940.03 389.67" fill="none" stroke="#000" stroke-width="1.45"/>
<circle cx="1016.4" cy="313.3" r="16.9" fill="none" stroke="#000" stroke-width="1.52"/>
<line x1="725.7" y1="313.3" x2="1142" y2="313.3" stroke="#000" stroke-width="1.38" stroke-dasharray="70 4 3 4"/>
<line x1="1005.09" y1="299.86" x2="941.09" y2="235.87" stroke="#000" stroke-width="1.31"/>
<line x1="1000.91" y1="301.21" x2="938.34" y2="238.63" stroke="#000" stroke-width="1.24" stroke-dasharray="14 4.5"/>
<rect x="936.56" y="234.17" width="3.4" height="3.4" fill="#fff" stroke="#000" stroke-width="0.9" transform="rotate(-135 938.26 235.87)"/>
<line x1="1011.09" y1="296.56" x2="976.46" y2="212.95" stroke="#000" stroke-width="1.31"/>
<line x1="1006.72" y1="296.2" x2="972.85" y2="214.44" stroke="#000" stroke-width="1.24" stroke-dasharray="14 4.5"/>
<rect x="972.14" y="210.16" width="3.4" height="3.4" fill="#fff" stroke="#000" stroke-width="0.9" transform="rotate(-112.5 973.84 211.86)"/>
<line x1="1016.4" y1="295.8" x2="1016.4" y2="205.3" stroke="#000" stroke-width="1.31"/>
<line x1="1013" y1="293.8" x2="1013" y2="205.3" stroke="#000" stroke-width="1.24" stroke-dasharray="14 4.5"/>
<rect x="1014.2" y="201.6" width="3.4" height="3.4" fill="#fff" stroke="#000" stroke-width="0.9" transform="rotate(-90 1015.9 203.3)"/>
<line x1="1024.48" y1="297.71" x2="1059.12" y2="214.1" stroke="#000" stroke-width="1.31"/>
<line x1="1021.65" y1="294.37" x2="1055.51" y2="212.6" stroke="#000" stroke-width="1.24" stroke-dasharray="14 4.5"/>
<rect x="1056.33" y="209.78" width="3.4" height="3.4" fill="#fff" stroke="#000" stroke-width="0.9" transform="rotate(-67.5 1058.03 211.48)"/>
<line x1="1029.84" y1="301.99" x2="1093.83" y2="237.99" stroke="#000" stroke-width="1.31"/>
<line x1="1028.49" y1="297.81" x2="1091.07" y2="235.24" stroke="#000" stroke-width="1.24" stroke-dasharray="14 4.5"/>
<rect x="1092.13" y="233.46" width="3.4" height="3.4" fill="#fff" stroke="#000" stroke-width="0.9" transform="rotate(-45 1093.83 235.16)"/>
<line x1="1033.14" y1="307.99" x2="1116.75" y2="273.36" stroke="#000" stroke-width="1.31"/>
<line x1="1033.5" y1="303.62" x2="1115.26" y2="269.75" stroke="#000" stroke-width="1.24" stroke-dasharray="14 4.5"/>
<rect x="1116.14" y="269.04" width="3.4" height="3.4" fill="#fff" stroke="#000" stroke-width="0.9" transform="rotate(-22.5 1117.84 270.74)"/>
<line x1="1033.9" y1="313.3" x2="1124.4" y2="313.3" stroke="#000" stroke-width="1.31"/>
<line x1="1035.9" y1="309.9" x2="1124.4" y2="309.9" stroke="#000" stroke-width="1.24" stroke-dasharray="14 4.5"/>
<rect x="1124.7" y="311.1" width="3.4" height="3.4" fill="#fff" stroke="#000" stroke-width="0.9" transform="rotate(-0 1126.4 312.8)"/>
<line x1="1031.99" y1="321.38" x2="1115.6" y2="356.02" stroke="#000" stroke-width="1.31"/>
<line x1="1035.33" y1="318.55" x2="1117.1" y2="352.41" stroke="#000" stroke-width="1.24" stroke-dasharray="14 4.5"/>
<rect x="1116.52" y="353.23" width="3.4" height="3.4" fill="#fff" stroke="#000" stroke-width="0.9" transform="rotate(22.5 1118.22 354.93)"/>
<line x1="1027.71" y1="326.74" x2="1091.71" y2="390.73" stroke="#000" stroke-width="1.31"/>
<line x1="1031.89" y1="325.39" x2="1094.46" y2="387.97" stroke="#000" stroke-width="1.24" stroke-dasharray="14 4.5"/>
<rect x="1092.84" y="389.03" width="3.4" height="3.4" fill="#fff" stroke="#000" stroke-width="0.9" transform="rotate(45 1094.54 390.73)"/>
<line x1="1021.71" y1="330.04" x2="1056.34" y2="413.65" stroke="#000" stroke-width="1.31"/>
<line x1="1026.08" y1="330.4" x2="1059.95" y2="412.16" stroke="#000" stroke-width="1.24" stroke-dasharray="14 4.5"/>
<rect x="1057.26" y="413.04" width="3.4" height="3.4" fill="#fff" stroke="#000" stroke-width="0.9" transform="rotate(67.5 1058.96 414.74)"/>
<line x1="1016.4" y1="330.8" x2="1016.4" y2="421.3" stroke="#000" stroke-width="1.31"/>
<line x1="1019.8" y1="332.8" x2="1019.8" y2="421.3" stroke="#000" stroke-width="1.24" stroke-dasharray="14 4.5"/>
<rect x="1015.2" y="421.6" width="3.4" height="3.4" fill="#fff" stroke="#000" stroke-width="0.9" transform="rotate(90 1016.9 423.3)"/>
<line x1="1008.32" y1="328.89" x2="973.68" y2="412.5" stroke="#000" stroke-width="1.31"/>
<line x1="1011.15" y1="332.23" x2="977.29" y2="414" stroke="#000" stroke-width="1.24" stroke-dasharray="14 4.5"/>
<rect x="973.07" y="413.42" width="3.4" height="3.4" fill="#fff" stroke="#000" stroke-width="0.9" transform="rotate(112.5 974.77 415.12)"/>
<line x1="1004.31" y1="328.79" x2="941.73" y2="391.36" stroke="#000" stroke-width="1.24" stroke-dasharray="14 4.5"/>
<rect x="937.27" y="389.74" width="3.4" height="3.4" fill="#fff" stroke="#000" stroke-width="0.9" transform="rotate(135 938.97 391.44)"/>
<line x1="939.61" y1="233.82" x2="911.32" y2="205.54" stroke="#000" stroke-width="3"/>
<line x1="936.71" y1="236.72" x2="908.42" y2="208.44" stroke="#000" stroke-width="1.52"/>
<circle cx="937.91" cy="234.81" r="1.9" fill="#fff" stroke="#000" stroke-width="1"/>
<circle cx="910.33" cy="207.23" r="1.9" fill="#fff" stroke="#000" stroke-width="1"/>
<line x1="1005.37" y1="327.02" x2="911.32" y2="421.06" stroke="#000" stroke-width="3"/>
<line x1="1002.47" y1="324.12" x2="908.42" y2="418.16" stroke="#000" stroke-width="1.52"/>
<circle cx="973.97" cy="355.73" r="1.9" fill="#fff" stroke="#000" stroke-width="1"/>
<circle cx="956.3" cy="373.4" r="1.9" fill="#fff" stroke="#000" stroke-width="1"/>
<circle cx="937.91" cy="391.79" r="1.9" fill="#fff" stroke="#000" stroke-width="1"/>
<circle cx="910.33" cy="419.37" r="1.9" fill="#fff" stroke="#000" stroke-width="1"/>
<line x1="870.4" y1="164" x2="875" y2="164" stroke="#000" stroke-width="1.38"/>
<line x1="870.4" y1="164" x2="870.4" y2="210.8" stroke="#000" stroke-width="1.38"/>
<line x1="870.4" y1="210.8" x2="907.6" y2="210.8" stroke="#000" stroke-width="1.38"/>
<line x1="879" y1="214" x2="907.6" y2="214" stroke="#000" stroke-width="1.38"/>
<line x1="879.2" y1="168.4" x2="883.5" y2="168.4" stroke="#000" stroke-width="1.38"/>
<line x1="883.5" y1="168.4" x2="904.4" y2="189.6" stroke="#000" stroke-width="1.38"/>
<line x1="904.4" y1="189.6" x2="904.4" y2="206.4" stroke="#000" stroke-width="1.38"/>
<line x1="904.4" y1="206.4" x2="879.9" y2="206.4" stroke="#000" stroke-width="1.38" stroke-dasharray="10 4"/>
<line x1="879.2" y1="173.8" x2="885" y2="173.8" stroke="#000" stroke-width="1.38"/>
<line x1="885" y1="173.8" x2="885" y2="182.3" stroke="#000" stroke-width="1.38"/>
<line x1="885" y1="182.3" x2="911.3" y2="209.3" stroke="#000" stroke-width="1.38"/>
<line x1="870.4" y1="462.6" x2="875" y2="462.6" stroke="#000" stroke-width="1.38"/>
<line x1="870.4" y1="462.6" x2="870.4" y2="415.8" stroke="#000" stroke-width="1.38"/>
<line x1="870.4" y1="415.8" x2="907.6" y2="415.8" stroke="#000" stroke-width="1.38"/>
<line x1="879" y1="412.6" x2="907.6" y2="412.6" stroke="#000" stroke-width="1.38"/>
<line x1="879.2" y1="458.2" x2="883.5" y2="458.2" stroke="#000" stroke-width="1.38"/>
<line x1="883.5" y1="458.2" x2="904.4" y2="437" stroke="#000" stroke-width="1.38"/>
<line x1="904.4" y1="437" x2="904.4" y2="420.2" stroke="#000" stroke-width="1.38"/>
<line x1="904.4" y1="420.2" x2="879.9" y2="420.2" stroke="#000" stroke-width="1.38" stroke-dasharray="10 4"/>
<line x1="879.2" y1="452.8" x2="885" y2="452.8" stroke="#000" stroke-width="1.38"/>
<line x1="885" y1="452.8" x2="885" y2="444.3" stroke="#000" stroke-width="1.38"/>
<line x1="885" y1="444.3" x2="911.3" y2="417.3" stroke="#000" stroke-width="1.38"/>
<line x1="838.8" y1="242.2" x2="903.26" y2="276.47" stroke="#000" stroke-width="1.38"/>
<path d="M903.26 276.47 A73 73 0 0 1 855.35 313.3" fill="none" stroke="#000" stroke-width="1.38"/>
<line x1="838.8" y1="384.3" x2="903.26" y2="350.03" stroke="#000" stroke-width="1.38"/>
<path d="M903.26 350.03 A73 73 0 0 0 855.77 313.3" fill="none" stroke="#000" stroke-width="1.38"/>
<path d="M1029.18 240.82 A73.6 73.6 0 0 0 954.67 273.21" fill="none" stroke="#000" stroke-width="1.38"/>
<path d="M1016.9 237.7 L1036.4 242.1 L1016.9 241.3 Z" fill="#000" stroke="#000" stroke-width="0.83"/>
<path d="M976.45 273.35 A56.5 56.5 0 0 0 976.45 353.25" fill="none" stroke="#000" stroke-width="1.38"/>
<path d="M969.64 279.33 L976.1 273.7 L971.74 280.85 Z" fill="#000" stroke="#000" stroke-width="0.69"/>
<path d="M969.64 347.27 L976.1 352.9 L971.74 345.75 Z" fill="#000" stroke="#000" stroke-width="0.69"/>
<text transform="translate(942 285.5) rotate(-6)" font-family="&quot;Liberation Sans&quot;, &quot;Noto Sans CJK SC&quot;, sans-serif" font-size="19" text-anchor="middle">下</text>
<text transform="translate(953.5 314) rotate(-90) scale(0.78 1)" font-family="&quot;Liberation Sans&quot;, &quot;Noto Sans CJK SC&quot;, sans-serif" font-size="21.5" text-anchor="middle">90<tspan font-size="15" font-weight="bold" dy="-5.5" dx="-1">°</tspan></text>
<text transform="translate(945.6 188.2)" font-family="&quot;Liberation Sans&quot;, &quot;Noto Sans CJK SC&quot;, sans-serif" font-size="21.5" text-anchor="middle" textLength="28.63" lengthAdjust="spacingAndGlyphs">FP2</text>
<line x1="920.8" y1="193.6" x2="960.2" y2="193.6" stroke="#000" stroke-width="1.38"/>
<line x1="920.8" y1="193.6" x2="912" y2="207.9" stroke="#000" stroke-width="1.38"/>
<text transform="translate(1087.5 188.2)" font-family="&quot;Liberation Sans&quot;, &quot;Noto Sans CJK SC&quot;, sans-serif" font-size="21.5" text-anchor="middle" textLength="24.21" lengthAdjust="spacingAndGlyphs">TB1</text>
<line x1="1055.9" y1="193.5" x2="1108" y2="193.5" stroke="#000" stroke-width="1.38"/>
<line x1="1055.9" y1="193.5" x2="1034" y2="225.6" stroke="#000" stroke-width="1.38"/>
<circle cx="1156.1" cy="210.2" r="24.5" fill="none" stroke="#000" stroke-width="1.66"/>
<line x1="1131.6" y1="210.2" x2="1180.6" y2="210.2" stroke="#000" stroke-width="1.52"/>
<text transform="translate(1156.1 207.2) scale(1.5 1)" font-family="&quot;DejaVu Sans&quot;, &quot;Liberation Sans&quot;, sans-serif" font-size="21" text-anchor="middle">5</text>
<text transform="translate(1156.1 229.2) scale(0.45 1)" font-family="&quot;Liberation Serif&quot;, &quot;Noto Serif CJK SC&quot;, serif" font-size="24" text-anchor="middle" font-weight="bold">F24</text>
<line x1="1131.6" y1="210.2" x2="1091.2" y2="233.6" stroke="#000" stroke-width="1.38"/>
<text transform="translate(968.5 450.6)" font-family="&quot;Liberation Sans&quot;, &quot;Noto Sans CJK SC&quot;, sans-serif" font-size="21.5" text-anchor="middle" textLength="33.37" lengthAdjust="spacingAndGlyphs">LTP1</text>
<line x1="936" y1="455.9" x2="991.5" y2="455.9" stroke="#000" stroke-width="1.38"/>
<line x1="936" y1="455.9" x2="919.9" y2="373.1" stroke="#000" stroke-width="1.38"/>
<text transform="translate(1097.3 450.6)" font-family="&quot;Liberation Sans&quot;, &quot;Noto Sans CJK SC&quot;, sans-serif" font-size="21.5" text-anchor="middle" textLength="16.17" lengthAdjust="spacingAndGlyphs">TZ</text>
<line x1="1057.9" y1="455.9" x2="1117.3" y2="455.9" stroke="#000" stroke-width="1.38"/>
<line x1="1057.9" y1="455.9" x2="1022.6" y2="321.7" stroke="#000" stroke-width="1.38"/>
<circle cx="940.1" cy="490.3" r="24.8" fill="none" stroke="#000" stroke-width="1.66"/>
<line x1="915.3" y1="490.3" x2="964.9" y2="490.3" stroke="#000" stroke-width="1.52"/>
<text transform="translate(940.1 487.3) scale(1.5 1)" font-family="&quot;DejaVu Sans&quot;, &quot;Liberation Sans&quot;, sans-serif" font-size="21" text-anchor="middle">1</text>
<text transform="translate(940.1 509.3) scale(0.45 1)" font-family="&quot;Liberation Serif&quot;, &quot;Noto Serif CJK SC&quot;, serif" font-size="24" text-anchor="middle" font-weight="bold">F23</text>
<line x1="876.8" y1="446.6" x2="915.3" y2="490.3" stroke="#000" stroke-width="1.38"/>
<text transform="translate(1025 527) scale(0.94 1)" font-family="&quot;Liberation Sans&quot;, &quot;Noto Sans CJK SC&quot;, sans-serif" font-size="36" text-anchor="middle">1−1</text>
<line x1="992.8" y1="536.8" x2="1061.2" y2="536.8" stroke="#000" stroke-width="3.2"/>
<line x1="737.9" y1="173.5" x2="737.9" y2="453.7" stroke="#000" stroke-width="1.38"/>
<line x1="772.3" y1="158.8" x2="772.3" y2="469.4" stroke="#000" stroke-width="1.38"/>
<line x1="735.2" y1="170.8" x2="740.6" y2="176.2" stroke="#000" stroke-width="2.7"/>
<line x1="735.2" y1="310.6" x2="740.6" y2="316" stroke="#000" stroke-width="2.7"/>
<line x1="735.2" y1="451" x2="740.6" y2="456.4" stroke="#000" stroke-width="2.7"/>
<line x1="769.6" y1="156.1" x2="775" y2="161.5" stroke="#000" stroke-width="2.7"/>
<line x1="769.6" y1="170.8" x2="775" y2="176.2" stroke="#000" stroke-width="2.7"/>
<line x1="769.6" y1="209.4" x2="775" y2="214.8" stroke="#000" stroke-width="2.7"/>
<line x1="769.6" y1="310.6" x2="775" y2="316" stroke="#000" stroke-width="2.7"/>
<line x1="769.6" y1="413.1" x2="775" y2="418.5" stroke="#000" stroke-width="2.7"/>
<line x1="769.6" y1="451" x2="775" y2="456.4" stroke="#000" stroke-width="2.7"/>
<line x1="769.6" y1="466.7" x2="775" y2="472.1" stroke="#000" stroke-width="2.7"/>
<line x1="762" y1="159.2" x2="810" y2="159.2" stroke="#000" stroke-width="1.38"/>
<line x1="725.7" y1="173.5" x2="810" y2="173.5" stroke="#000" stroke-width="1.38"/>
<line x1="762" y1="212.1" x2="810" y2="212.1" stroke="#000" stroke-width="1.38"/>
<line x1="762" y1="415.8" x2="810" y2="415.8" stroke="#000" stroke-width="1.38"/>
<line x1="725.7" y1="453.7" x2="810" y2="453.7" stroke="#000" stroke-width="1.38"/>
<line x1="762" y1="469.4" x2="810" y2="469.4" stroke="#000" stroke-width="1.38"/>
<text transform="translate(732 243.2) rotate(-90)" font-family="&quot;Liberation Sans&quot;, &quot;Noto Sans CJK SC&quot;, sans-serif" font-size="21.5" text-anchor="middle" textLength="50.47" lengthAdjust="spacingAndGlyphs">1129.5</text>
<text transform="translate(732 383.5) rotate(-90)" font-family="&quot;Liberation Sans&quot;, &quot;Noto Sans CJK SC&quot;, sans-serif" font-size="21.5" text-anchor="middle" textLength="50.47" lengthAdjust="spacingAndGlyphs">1129.5</text>
<text transform="translate(767.5 262.5) rotate(-90)" font-family="&quot;Liberation Sans&quot;, &quot;Noto Sans CJK SC&quot;, sans-serif" font-size="21.5" text-anchor="middle" textLength="43.67" lengthAdjust="spacingAndGlyphs">829.5</text>
<text transform="translate(767.5 364.5) rotate(-90)" font-family="&quot;Liberation Sans&quot;, &quot;Noto Sans CJK SC&quot;, sans-serif" font-size="21.5" text-anchor="middle" textLength="43.67" lengthAdjust="spacingAndGlyphs">829.5</text>
<text transform="translate(767.5 192.5) rotate(-90)" font-family="&quot;Liberation Sans&quot;, &quot;Noto Sans CJK SC&quot;, sans-serif" font-size="21.5" text-anchor="middle" textLength="27.3" lengthAdjust="spacingAndGlyphs">300</text>
<text transform="translate(767.5 435) rotate(-90)" font-family="&quot;Liberation Sans&quot;, &quot;Noto Sans CJK SC&quot;, sans-serif" font-size="21.5" text-anchor="middle" textLength="27.3" lengthAdjust="spacingAndGlyphs">300</text>
<text transform="translate(767.5 143.7) rotate(-90)" font-family="&quot;Liberation Sans&quot;, &quot;Noto Sans CJK SC&quot;, sans-serif" font-size="21.5" text-anchor="middle" textLength="26.78" lengthAdjust="spacingAndGlyphs">100</text>
<text transform="translate(767.5 485) rotate(-90)" font-family="&quot;Liberation Sans&quot;, &quot;Noto Sans CJK SC&quot;, sans-serif" font-size="21.5" text-anchor="middle" textLength="26.78" lengthAdjust="spacingAndGlyphs">100</text>
<line x1="1320.7" y1="57.4" x2="1572.6" y2="57.4" stroke="#000" stroke-width="1.38"/>
<line x1="1315.6" y1="95.3" x2="1572.6" y2="95.3" stroke="#000" stroke-width="1.38"/>
<line x1="1318" y1="60.1" x2="1323.4" y2="54.7" stroke="#000" stroke-width="2.7"/>
<line x1="1456.8" y1="60.1" x2="1462.2" y2="54.7" stroke="#000" stroke-width="2.7"/>
<line x1="1567.6" y1="60.1" x2="1573" y2="54.7" stroke="#000" stroke-width="2.7"/>
<line x1="1315.8" y1="98" x2="1321.2" y2="92.6" stroke="#000" stroke-width="2.7"/>
<line x1="1319.3" y1="98" x2="1324.7" y2="92.6" stroke="#000" stroke-width="2.7"/>
<line x1="1349.8" y1="98" x2="1355.2" y2="92.6" stroke="#000" stroke-width="2.7"/>
<line x1="1439.8" y1="98" x2="1445.2" y2="92.6" stroke="#000" stroke-width="2.7"/>
<line x1="1473.5" y1="98" x2="1478.9" y2="92.6" stroke="#000" stroke-width="2.7"/>
<line x1="1567.6" y1="98" x2="1573" y2="92.6" stroke="#000" stroke-width="2.7"/>
<line x1="1320.7" y1="43.5" x2="1320.7" y2="99.5" stroke="#000" stroke-width="1.38"/>
<line x1="1570.3" y1="43.5" x2="1570.3" y2="143.2" stroke="#000" stroke-width="1.38"/>
<line x1="1459.5" y1="43.5" x2="1459.5" y2="99.5" stroke="#000" stroke-width="1.38"/>
<line x1="1352.5" y1="82.1" x2="1352.5" y2="143.2" stroke="#000" stroke-width="1.38"/>
<line x1="1442.5" y1="82.1" x2="1442.5" y2="143.2" stroke="#000" stroke-width="1.38"/>
<line x1="1476.2" y1="82.1" x2="1476.2" y2="143.2" stroke="#000" stroke-width="1.38"/>
<text transform="translate(1390.4 51.8)" font-family="&quot;Liberation Sans&quot;, &quot;Noto Sans CJK SC&quot;, sans-serif" font-size="21.5" text-anchor="middle" textLength="51.29" lengthAdjust="spacingAndGlyphs">1129.5</text>
<text transform="translate(1514.7 51.8)" font-family="&quot;Liberation Sans&quot;, &quot;Noto Sans CJK SC&quot;, sans-serif" font-size="21.5" text-anchor="middle" textLength="43.67" lengthAdjust="spacingAndGlyphs">829.5</text>
<text transform="translate(1307.3 89)" font-family="&quot;Liberation Sans&quot;, &quot;Noto Sans CJK SC&quot;, sans-serif" font-size="21.5" text-anchor="middle" textLength="15.96" lengthAdjust="spacingAndGlyphs">15</text>
<text transform="translate(1338 89)" font-family="&quot;Liberation Sans&quot;, &quot;Noto Sans CJK SC&quot;, sans-serif" font-size="21.5" text-anchor="middle" textLength="27.5" lengthAdjust="spacingAndGlyphs">300</text>
<text transform="translate(1398 89)" font-family="&quot;Liberation Sans&quot;, &quot;Noto Sans CJK SC&quot;, sans-serif" font-size="21.5" text-anchor="middle" textLength="27.4" lengthAdjust="spacingAndGlyphs">750</text>
<text transform="translate(1459.5 89)" font-family="&quot;Liberation Sans&quot;, &quot;Noto Sans CJK SC&quot;, sans-serif" font-size="21.5" text-anchor="middle" textLength="26.37" lengthAdjust="spacingAndGlyphs">159</text>
<text transform="translate(1523.5 89)" font-family="&quot;Liberation Sans&quot;, &quot;Noto Sans CJK SC&quot;, sans-serif" font-size="21.5" text-anchor="middle" textLength="27.09" lengthAdjust="spacingAndGlyphs">750</text>
<line x1="1318.7" y1="95.3" x2="1318.7" y2="126.5" stroke="#000" stroke-width="1.38"/>
<line x1="1322" y1="95.3" x2="1322" y2="482.4" stroke="#000" stroke-width="1.38"/>
<line x1="1459.5" y1="128.5" x2="1459.5" y2="443.2" stroke="#000" stroke-width="1.38" stroke-dasharray="60 4 3 4"/>
<line x1="1277.7" y1="126.7" x2="1277.7" y2="241.7" stroke="#000" stroke-width="1.38"/>
<line x1="1277.7" y1="241.7" x2="1322" y2="241.7" stroke="#000" stroke-width="1.38"/>
<line x1="1281.4" y1="126.7" x2="1281.4" y2="238" stroke="#000" stroke-width="3"/>
<line x1="1318.3" y1="126.7" x2="1318.3" y2="238" stroke="#000" stroke-width="2.6"/>
<line x1="1279.9" y1="238" x2="1319.6" y2="238" stroke="#000" stroke-width="3"/>
<line x1="1281.4" y1="132.9" x2="1318.3" y2="132.9" stroke="#000" stroke-width="1.52"/>
<line x1="1281.4" y1="153.3" x2="1318.3" y2="132.9" stroke="#000" stroke-width="1.52"/>
<line x1="1281.4" y1="153.3" x2="1318.3" y2="153.3" stroke="#000" stroke-width="1.52"/>
<line x1="1281.4" y1="174.5" x2="1318.3" y2="153.3" stroke="#000" stroke-width="1.52"/>
<line x1="1281.4" y1="174.5" x2="1318.3" y2="174.5" stroke="#000" stroke-width="1.52"/>
<line x1="1281.4" y1="196.4" x2="1318.3" y2="174.5" stroke="#000" stroke-width="1.52"/>
<line x1="1281.4" y1="196.4" x2="1318.3" y2="196.4" stroke="#000" stroke-width="1.52"/>
<line x1="1281.4" y1="217.6" x2="1318.3" y2="196.4" stroke="#000" stroke-width="1.52"/>
<line x1="1281.4" y1="217.6" x2="1318.3" y2="217.6" stroke="#000" stroke-width="1.52"/>
<line x1="1281.4" y1="238" x2="1318.3" y2="217.6" stroke="#000" stroke-width="1.52"/>
<line x1="1282.1" y1="132.5" x2="1293.1" y2="127" stroke="#000" stroke-width="1.52"/>
<line x1="1281.4" y1="158.4" x2="1318.3" y2="158.4" stroke="#000" stroke-width="1.52" stroke-dasharray="12 4"/>
<line x1="1281.4" y1="221.2" x2="1318.3" y2="221.2" stroke="#000" stroke-width="1.52" stroke-dasharray="12 4"/>
<line x1="1277.7" y1="383.8" x2="1277.7" y2="482.4" stroke="#000" stroke-width="1.38"/>
<line x1="1277.7" y1="383.8" x2="1322" y2="383.8" stroke="#000" stroke-width="1.38"/>
<line x1="1281.4" y1="387.5" x2="1281.4" y2="482.4" stroke="#000" stroke-width="3"/>
<line x1="1318.3" y1="387.5" x2="1318.3" y2="482.4" stroke="#000" stroke-width="2.6"/>
<line x1="1279.9" y1="387.5" x2="1319.6" y2="387.5" stroke="#000" stroke-width="3"/>
<line x1="1281.4" y1="408" x2="1318.3" y2="408" stroke="#000" stroke-width="1.52"/>
<line x1="1281.4" y1="408" x2="1318.3" y2="387.5" stroke="#000" stroke-width="1.52"/>
<line x1="1281.4" y1="429.2" x2="1318.3" y2="429.2" stroke="#000" stroke-width="1.52"/>
<line x1="1281.4" y1="429.2" x2="1318.3" y2="408" stroke="#000" stroke-width="1.52"/>
<line x1="1281.4" y1="451.1" x2="1318.3" y2="451.1" stroke="#000" stroke-width="1.52"/>
<line x1="1281.4" y1="451.1" x2="1318.3" y2="429.2" stroke="#000" stroke-width="1.52"/>
<line x1="1281.4" y1="472.3" x2="1318.3" y2="472.3" stroke="#000" stroke-width="1.52"/>
<line x1="1281.4" y1="472.3" x2="1318.3" y2="451.1" stroke="#000" stroke-width="1.52"/>
<line x1="1295.1" y1="482.4" x2="1307.1" y2="476" stroke="#000" stroke-width="1.52"/>
<line x1="1281.4" y1="404.4" x2="1318.3" y2="404.4" stroke="#000" stroke-width="1.52" stroke-dasharray="12 4"/>
<line x1="1281.4" y1="467.2" x2="1318.3" y2="467.2" stroke="#000" stroke-width="1.52" stroke-dasharray="12 4"/>
<line x1="1281.9" y1="241.7" x2="1281.9" y2="383.8" stroke="#000" stroke-width="1.38" stroke-dasharray="22 6"/>
<path d="M1380.3 233.6 A112 112 0 1 1 1380.3 392" fill="none" stroke="#000" stroke-width="1.45"/>
<path d="M1383.13 236.43 A108 108 0 1 1 1383.13 389.17" fill="none" stroke="#000" stroke-width="1.45"/>
<circle cx="1459.5" cy="312.8" r="16.6" fill="none" stroke="#000" stroke-width="1.52"/>
<circle cx="1459.5" cy="312.8" r="12.2" fill="none" stroke="#000" stroke-width="1.52"/>
<line x1="1223.2" y1="312.8" x2="1585" y2="312.8" stroke="#000" stroke-width="1.38" stroke-dasharray="50 4 3 4"/>
<line x1="1448.19" y1="299.36" x2="1384.19" y2="235.37" stroke="#000" stroke-width="1.31"/>
<line x1="1444.01" y1="300.71" x2="1381.44" y2="238.13" stroke="#000" stroke-width="1.24" stroke-dasharray="14 4.5"/>
<rect x="1379.66" y="233.67" width="3.4" height="3.4" fill="#fff" stroke="#000" stroke-width="0.9" transform="rotate(-135 1381.36 235.37)"/>
<line x1="1454.19" y1="296.06" x2="1419.56" y2="212.45" stroke="#000" stroke-width="1.31"/>
<line x1="1449.82" y1="295.7" x2="1415.95" y2="213.94" stroke="#000" stroke-width="1.24" stroke-dasharray="14 4.5"/>
<rect x="1415.24" y="209.66" width="3.4" height="3.4" fill="#fff" stroke="#000" stroke-width="0.9" transform="rotate(-112.5 1416.94 211.36)"/>
<line x1="1459.5" y1="295.3" x2="1459.5" y2="204.8" stroke="#000" stroke-width="1.31"/>
<line x1="1456.1" y1="293.3" x2="1456.1" y2="204.8" stroke="#000" stroke-width="1.24" stroke-dasharray="14 4.5"/>
<rect x="1457.3" y="201.1" width="3.4" height="3.4" fill="#fff" stroke="#000" stroke-width="0.9" transform="rotate(-90 1459 202.8)"/>
<line x1="1467.58" y1="297.21" x2="1502.22" y2="213.6" stroke="#000" stroke-width="1.31"/>
<line x1="1464.75" y1="293.87" x2="1498.61" y2="212.1" stroke="#000" stroke-width="1.24" stroke-dasharray="14 4.5"/>
<rect x="1499.43" y="209.28" width="3.4" height="3.4" fill="#fff" stroke="#000" stroke-width="0.9" transform="rotate(-67.5 1501.13 210.98)"/>
<line x1="1472.94" y1="301.49" x2="1536.93" y2="237.49" stroke="#000" stroke-width="1.31"/>
<line x1="1471.59" y1="297.31" x2="1534.17" y2="234.74" stroke="#000" stroke-width="1.24" stroke-dasharray="14 4.5"/>
<rect x="1535.23" y="232.96" width="3.4" height="3.4" fill="#fff" stroke="#000" stroke-width="0.9" transform="rotate(-45 1536.93 234.66)"/>
<line x1="1476.24" y1="307.49" x2="1559.85" y2="272.86" stroke="#000" stroke-width="1.31"/>
<line x1="1476.6" y1="303.12" x2="1558.36" y2="269.25" stroke="#000" stroke-width="1.24" stroke-dasharray="14 4.5"/>
<rect x="1559.24" y="268.54" width="3.4" height="3.4" fill="#fff" stroke="#000" stroke-width="0.9" transform="rotate(-22.5 1560.94 270.24)"/>
<line x1="1477" y1="312.8" x2="1567.5" y2="312.8" stroke="#000" stroke-width="1.31"/>
<line x1="1479" y1="309.4" x2="1567.5" y2="309.4" stroke="#000" stroke-width="1.24" stroke-dasharray="14 4.5"/>
<rect x="1567.8" y="310.6" width="3.4" height="3.4" fill="#fff" stroke="#000" stroke-width="0.9" transform="rotate(-0 1569.5 312.3)"/>
<line x1="1475.09" y1="320.88" x2="1558.7" y2="355.52" stroke="#000" stroke-width="1.31"/>
<line x1="1478.43" y1="318.05" x2="1560.2" y2="351.91" stroke="#000" stroke-width="1.24" stroke-dasharray="14 4.5"/>
<rect x="1559.62" y="352.73" width="3.4" height="3.4" fill="#fff" stroke="#000" stroke-width="0.9" transform="rotate(22.5 1561.32 354.43)"/>
<line x1="1470.81" y1="326.24" x2="1534.81" y2="390.23" stroke="#000" stroke-width="1.31"/>
<line x1="1474.99" y1="324.89" x2="1537.56" y2="387.47" stroke="#000" stroke-width="1.24" stroke-dasharray="14 4.5"/>
<rect x="1535.94" y="388.53" width="3.4" height="3.4" fill="#fff" stroke="#000" stroke-width="0.9" transform="rotate(45 1537.64 390.23)"/>
<line x1="1464.81" y1="329.54" x2="1499.44" y2="413.15" stroke="#000" stroke-width="1.31"/>
<line x1="1469.18" y1="329.9" x2="1503.05" y2="411.66" stroke="#000" stroke-width="1.24" stroke-dasharray="14 4.5"/>
<rect x="1500.36" y="412.54" width="3.4" height="3.4" fill="#fff" stroke="#000" stroke-width="0.9" transform="rotate(67.5 1502.06 414.24)"/>
<line x1="1459.5" y1="330.3" x2="1459.5" y2="420.8" stroke="#000" stroke-width="1.31"/>
<line x1="1462.9" y1="332.3" x2="1462.9" y2="420.8" stroke="#000" stroke-width="1.24" stroke-dasharray="14 4.5"/>
<rect x="1458.3" y="421.1" width="3.4" height="3.4" fill="#fff" stroke="#000" stroke-width="0.9" transform="rotate(90 1460 422.8)"/>
<line x1="1451.42" y1="328.39" x2="1416.78" y2="412" stroke="#000" stroke-width="1.31"/>
<line x1="1454.25" y1="331.73" x2="1420.39" y2="413.5" stroke="#000" stroke-width="1.24" stroke-dasharray="14 4.5"/>
<rect x="1416.17" y="412.92" width="3.4" height="3.4" fill="#fff" stroke="#000" stroke-width="0.9" transform="rotate(112.5 1417.87 414.62)"/>
<line x1="1446.06" y1="324.11" x2="1382.07" y2="388.11" stroke="#000" stroke-width="1.31"/>
<line x1="1447.41" y1="328.29" x2="1384.83" y2="390.86" stroke="#000" stroke-width="1.24" stroke-dasharray="14 4.5"/>
<rect x="1380.37" y="389.24" width="3.4" height="3.4" fill="#fff" stroke="#000" stroke-width="0.9" transform="rotate(135 1382.07 390.94)"/>
<line x1="1382.71" y1="233.32" x2="1354.42" y2="205.04" stroke="#000" stroke-width="3"/>
<line x1="1379.81" y1="236.22" x2="1351.52" y2="207.94" stroke="#000" stroke-width="1.52"/>
<circle cx="1381.01" cy="234.31" r="1.9" fill="#fff" stroke="#000" stroke-width="1"/>
<circle cx="1353.43" cy="206.73" r="1.9" fill="#fff" stroke="#000" stroke-width="1"/>
<line x1="1382.71" y1="392.28" x2="1354.42" y2="420.56" stroke="#000" stroke-width="3"/>
<line x1="1379.81" y1="389.38" x2="1351.52" y2="417.66" stroke="#000" stroke-width="1.52"/>
<circle cx="1381.01" cy="391.29" r="1.9" fill="#fff" stroke="#000" stroke-width="1"/>
<circle cx="1353.43" cy="418.87" r="1.9" fill="#fff" stroke="#000" stroke-width="1"/>
<line x1="1313.5" y1="163.5" x2="1318.1" y2="163.5" stroke="#000" stroke-width="1.38"/>
<line x1="1313.5" y1="163.5" x2="1313.5" y2="210.3" stroke="#000" stroke-width="1.38"/>
<line x1="1313.5" y1="210.3" x2="1350.7" y2="210.3" stroke="#000" stroke-width="1.38"/>
<line x1="1322.1" y1="213.5" x2="1350.7" y2="213.5" stroke="#000" stroke-width="1.38"/>
<line x1="1322.3" y1="167.9" x2="1326.6" y2="167.9" stroke="#000" stroke-width="1.38"/>
<line x1="1326.6" y1="167.9" x2="1347.5" y2="189.1" stroke="#000" stroke-width="1.38"/>
<line x1="1347.5" y1="189.1" x2="1347.5" y2="205.9" stroke="#000" stroke-width="1.38"/>
<line x1="1347.5" y1="205.9" x2="1323" y2="205.9" stroke="#000" stroke-width="1.38" stroke-dasharray="10 4"/>
<line x1="1322.3" y1="173.3" x2="1328.1" y2="173.3" stroke="#000" stroke-width="1.38"/>
<line x1="1328.1" y1="173.3" x2="1328.1" y2="181.8" stroke="#000" stroke-width="1.38"/>
<line x1="1328.1" y1="181.8" x2="1354.4" y2="208.8" stroke="#000" stroke-width="1.38"/>
<line x1="1313.5" y1="462.1" x2="1318.1" y2="462.1" stroke="#000" stroke-width="1.38"/>
<line x1="1313.5" y1="462.1" x2="1313.5" y2="415.3" stroke="#000" stroke-width="1.38"/>
<line x1="1313.5" y1="415.3" x2="1350.7" y2="415.3" stroke="#000" stroke-width="1.38"/>
<line x1="1322.1" y1="412.1" x2="1350.7" y2="412.1" stroke="#000" stroke-width="1.38"/>
<line x1="1322.3" y1="457.7" x2="1326.6" y2="457.7" stroke="#000" stroke-width="1.38"/>
<line x1="1326.6" y1="457.7" x2="1347.5" y2="436.5" stroke="#000" stroke-width="1.38"/>
<line x1="1347.5" y1="436.5" x2="1347.5" y2="419.7" stroke="#000" stroke-width="1.38"/>
<line x1="1347.5" y1="419.7" x2="1323" y2="419.7" stroke="#000" stroke-width="1.38" stroke-dasharray="10 4"/>
<line x1="1322.3" y1="452.3" x2="1328.1" y2="452.3" stroke="#000" stroke-width="1.38"/>
<line x1="1328.1" y1="452.3" x2="1328.1" y2="443.8" stroke="#000" stroke-width="1.38"/>
<line x1="1328.1" y1="443.8" x2="1354.4" y2="416.8" stroke="#000" stroke-width="1.38"/>
<line x1="1443.79" y1="319.31" x2="1360.64" y2="353.75" stroke="#000" stroke-width="1.38"/>
<path d="M1360.64 353.75 A107 107 0 0 0 1383.84 388.46" fill="none" stroke="#000" stroke-width="1.38"/>
<line x1="1476.28" y1="307.83" x2="1515.11" y2="296.33" stroke="#000" stroke-width="1.38"/>
<line x1="1526.62" y1="292.92" x2="1594.69" y2="272.75" stroke="#000" stroke-width="1.38"/>
<line x1="1476.67" y1="309.4" x2="1517.87" y2="301.24" stroke="#000" stroke-width="1.38"/>
<line x1="1528.17" y1="299.2" x2="1597.81" y2="285.41" stroke="#000" stroke-width="1.38"/>
<path d="M1515.9 284.7 L1516.9 291.9 L1525.4 309.7 L1526.5 292.6" fill="none" stroke="#000" stroke-width="1.79"/>
<line x1="1446.8" y1="315.3" x2="1474.9" y2="308.4" stroke="#000" stroke-width="2"/>
<path d="M1472.28 240.32 A73.6 73.6 0 0 0 1403.12 265.49" fill="none" stroke="#000" stroke-width="1.38"/>
<path d="M1460 237.2 L1479.5 241.6 L1460 240.8 Z" fill="#000" stroke="#000" stroke-width="0.83"/>
<path d="M1419.55 272.85 A56.5 56.5 0 0 0 1419.55 352.75" fill="none" stroke="#000" stroke-width="1.38"/>
<path d="M1412.74 278.83 L1419.2 273.2 L1414.84 280.35 Z" fill="#000" stroke="#000" stroke-width="0.69"/>
<path d="M1412.74 346.77 L1419.2 352.4 L1414.84 345.25 Z" fill="#000" stroke="#000" stroke-width="0.69"/>
<path d="M1388.31 331.87 A73.7 73.7 0 0 0 1449.24 385.78" fill="none" stroke="#000" stroke-width="1.38"/>
<path d="M1430.04 382.21 L1449.24 385.78 L1431.37 379.08 Z" fill="#000" stroke="#000" stroke-width="0.69"/>
<text transform="translate(1390.5 279.5) rotate(-6)" font-family="&quot;Liberation Sans&quot;, &quot;Noto Sans CJK SC&quot;, sans-serif" font-size="19" text-anchor="middle">下</text>
<text transform="translate(1397 314) rotate(-90) scale(0.78 1)" font-family="&quot;Liberation Sans&quot;, &quot;Noto Sans CJK SC&quot;, sans-serif" font-size="21.5" text-anchor="middle">90<tspan font-size="15" font-weight="bold" dy="-5.5" dx="-1">°</tspan></text>
<text transform="translate(1379 324.5) rotate(-90)" font-family="&quot;Liberation Sans&quot;, &quot;Noto Sans CJK SC&quot;, sans-serif" font-size="17" text-anchor="middle">上</text>
<text transform="translate(1387.8 187.2)" font-family="&quot;Liberation Sans&quot;, &quot;Noto Sans CJK SC&quot;, sans-serif" font-size="21.5" text-anchor="middle" textLength="29.46" lengthAdjust="spacingAndGlyphs">FP2</text>
<line x1="1363.9" y1="192.6" x2="1404.9" y2="192.6" stroke="#000" stroke-width="1.38"/>
<line x1="1363.9" y1="192.6" x2="1355.2" y2="208.5" stroke="#000" stroke-width="1.38"/>
<text transform="translate(1532.4 187.2)" font-family="&quot;Liberation Sans&quot;, &quot;Noto Sans CJK SC&quot;, sans-serif" font-size="21.5" text-anchor="middle" textLength="25.34" lengthAdjust="spacingAndGlyphs">TB1</text>
<line x1="1499.1" y1="192.6" x2="1552.4" y2="192.6" stroke="#000" stroke-width="1.38"/>
<line x1="1499.1" y1="192.6" x2="1477.2" y2="226.2" stroke="#000" stroke-width="1.38"/>
<circle cx="1599.3" cy="209" r="24.5" fill="none" stroke="#000" stroke-width="1.66"/>
<line x1="1574.8" y1="209" x2="1623.8" y2="209" stroke="#000" stroke-width="1.52"/>
<text transform="translate(1599.3 206) scale(1.5 1)" font-family="&quot;DejaVu Sans&quot;, &quot;Liberation Sans&quot;, sans-serif" font-size="21" text-anchor="middle">5</text>
<text transform="translate(1599.3 228) scale(0.45 1)" font-family="&quot;Liberation Serif&quot;, &quot;Noto Serif CJK SC&quot;, serif" font-size="24" text-anchor="middle" font-weight="bold">F24</text>
<line x1="1574.9" y1="209" x2="1534.6" y2="233.1" stroke="#000" stroke-width="1.38"/>
<text transform="translate(1410.6 449)" font-family="&quot;Liberation Sans&quot;, &quot;Noto Sans CJK SC&quot;, sans-serif" font-size="21.5" text-anchor="middle" textLength="33.17" lengthAdjust="spacingAndGlyphs">LTP1</text>
<line x1="1380.3" y1="455.4" x2="1436.3" y2="455.4" stroke="#000" stroke-width="1.38"/>
<line x1="1380.3" y1="455.4" x2="1363.9" y2="373.4" stroke="#000" stroke-width="1.38"/>
<text transform="translate(1539.1 449)" font-family="&quot;Liberation Sans&quot;, &quot;Noto Sans CJK SC&quot;, sans-serif" font-size="21.5" text-anchor="middle" textLength="16.07" lengthAdjust="spacingAndGlyphs">TZ</text>
<line x1="1501.8" y1="455.4" x2="1561.9" y2="455.4" stroke="#000" stroke-width="1.38"/>
<line x1="1501.8" y1="455.4" x2="1466.3" y2="322.9" stroke="#000" stroke-width="1.38"/>
<circle cx="1383.6" cy="490.9" r="24.6" fill="none" stroke="#000" stroke-width="1.66"/>
<line x1="1359" y1="490.9" x2="1408.2" y2="490.9" stroke="#000" stroke-width="1.52"/>
<text transform="translate(1383.6 487.9) scale(1.5 1)" font-family="&quot;DejaVu Sans&quot;, &quot;Liberation Sans&quot;, sans-serif" font-size="21" text-anchor="middle">1</text>
<text transform="translate(1383.6 509.9) scale(0.45 1)" font-family="&quot;Liberation Serif&quot;, &quot;Noto Serif CJK SC&quot;, serif" font-size="24" text-anchor="middle" font-weight="bold">F23</text>
<line x1="1324.3" y1="445.8" x2="1359.8" y2="490.9" stroke="#000" stroke-width="1.38"/>
<text transform="translate(1500.2 526.4) scale(0.94 1)" font-family="&quot;Liberation Sans&quot;, &quot;Noto Sans CJK SC&quot;, sans-serif" font-size="36" text-anchor="middle">2−2</text>
<line x1="1467.1" y1="536.5" x2="1534.6" y2="536.5" stroke="#000" stroke-width="3.2"/>
<line x1="833.7" y1="601" x2="833.7" y2="940" stroke="#000" stroke-width="1.38"/>
<line x1="837" y1="601" x2="837" y2="940" stroke="#000" stroke-width="2.3"/>
<line x1="876.1" y1="601" x2="876.1" y2="940" stroke="#000" stroke-width="2.3"/>
<line x1="879.4" y1="601" x2="879.4" y2="940" stroke="#000" stroke-width="1.38"/>
<line x1="836.9" y1="611.45" x2="856.41" y2="601" stroke="#000" stroke-width="1.52"/>
<line x1="836.9" y1="611.45" x2="876.2" y2="611.45" stroke="#000" stroke-width="1.52"/>
<line x1="836.9" y1="632.5" x2="876.2" y2="611.45" stroke="#000" stroke-width="1.52"/>
<line x1="836.9" y1="632.5" x2="876.2" y2="632.5" stroke="#000" stroke-width="1.52"/>
<line x1="836.9" y1="653.55" x2="876.2" y2="632.5" stroke="#000" stroke-width="1.52"/>
<line x1="836.9" y1="653.55" x2="876.2" y2="653.55" stroke="#000" stroke-width="1.52"/>
<line x1="836.9" y1="674.6" x2="876.2" y2="653.55" stroke="#000" stroke-width="1.52"/>
<line x1="836.9" y1="674.6" x2="876.2" y2="674.6" stroke="#000" stroke-width="1.52"/>
<line x1="836.9" y1="695.65" x2="876.2" y2="674.6" stroke="#000" stroke-width="1.52"/>
<line x1="836.9" y1="695.65" x2="876.2" y2="695.65" stroke="#000" stroke-width="1.52"/>
<line x1="836.9" y1="716.7" x2="876.2" y2="695.65" stroke="#000" stroke-width="1.52"/>
<line x1="836.9" y1="716.7" x2="876.2" y2="716.7" stroke="#000" stroke-width="1.52"/>
<line x1="836.9" y1="737.75" x2="876.2" y2="716.7" stroke="#000" stroke-width="1.52"/>
<line x1="836.9" y1="737.75" x2="876.2" y2="737.75" stroke="#000" stroke-width="1.52"/>
<line x1="836.9" y1="758.8" x2="876.2" y2="737.75" stroke="#000" stroke-width="1.52"/>
<line x1="836.9" y1="758.8" x2="876.2" y2="758.8" stroke="#000" stroke-width="1.52"/>
<line x1="836.9" y1="779.85" x2="876.2" y2="758.8" stroke="#000" stroke-width="1.52"/>
<line x1="836.9" y1="779.85" x2="876.2" y2="779.85" stroke="#000" stroke-width="1.52"/>
<line x1="836.9" y1="800.9" x2="876.2" y2="779.85" stroke="#000" stroke-width="1.52"/>
<line x1="836.9" y1="800.9" x2="876.2" y2="800.9" stroke="#000" stroke-width="1.52"/>
<line x1="836.9" y1="821.95" x2="876.2" y2="800.9" stroke="#000" stroke-width="1.52"/>
<line x1="836.9" y1="821.95" x2="876.2" y2="821.95" stroke="#000" stroke-width="1.52"/>
<line x1="836.9" y1="843" x2="876.2" y2="821.95" stroke="#000" stroke-width="1.52"/>
<line x1="836.9" y1="843" x2="876.2" y2="843" stroke="#000" stroke-width="1.52"/>
<line x1="836.9" y1="864.05" x2="876.2" y2="843" stroke="#000" stroke-width="1.52"/>
<line x1="836.9" y1="864.05" x2="876.2" y2="864.05" stroke="#000" stroke-width="1.52"/>
<line x1="836.9" y1="885.1" x2="876.2" y2="864.05" stroke="#000" stroke-width="1.52"/>
<line x1="836.9" y1="885.1" x2="876.2" y2="885.1" stroke="#000" stroke-width="1.52"/>
<line x1="836.9" y1="906.15" x2="876.2" y2="885.1" stroke="#000" stroke-width="1.52"/>
<line x1="836.9" y1="906.15" x2="876.2" y2="906.15" stroke="#000" stroke-width="1.52"/>
<line x1="836.9" y1="927.2" x2="876.2" y2="906.15" stroke="#000" stroke-width="1.52"/>
<line x1="836.9" y1="927.2" x2="876.2" y2="927.2" stroke="#000" stroke-width="1.52"/>
<line x1="852.3" y1="940" x2="876.2" y2="927.2" stroke="#000" stroke-width="1.52"/>
<path d="M879.2 645 L1015.8 645 A125.6 125.6 0 0 1 1015.8 896.2 L879.2 896.2" fill="none" stroke="#000" stroke-width="1.52"/>
<line x1="725.9" y1="770.6" x2="1197" y2="770.6" stroke="#000" stroke-width="1.38" stroke-dasharray="70 4 3 4"/>
<line x1="1015.8" y1="593" x2="1015.8" y2="918" stroke="#000" stroke-width="1.38" stroke-dasharray="70 4 3 4"/>
<path d="M1094.29 692.11 A111 111 0 0 1 937.31 849.09" fill="none" stroke="#000" stroke-width="1.45"/>
<path d="M1091.67 694.73 A107.3 107.3 0 0 1 939.93 846.47" fill="none" stroke="#000" stroke-width="1.45"/>
<circle cx="1015.8" cy="770.6" r="16.6" fill="none" stroke="#000" stroke-width="1.52"/>
<circle cx="1015.8" cy="770.6" r="12.2" fill="none" stroke="#000" stroke-width="1.52"/>
<line x1="1032.54" y1="765.29" x2="1116.15" y2="730.66" stroke="#000" stroke-width="1.31"/>
<line x1="1032.9" y1="760.92" x2="1114.66" y2="727.05" stroke="#000" stroke-width="1.24" stroke-dasharray="14 4.5"/>
<rect x="1115.54" y="726.34" width="3.4" height="3.4" fill="#fff" stroke="#000" stroke-width="0.9" transform="rotate(-22.5 1117.24 728.04)"/>
<line x1="1033.3" y1="770.6" x2="1123.8" y2="770.6" stroke="#000" stroke-width="1.31"/>
<line x1="1035.3" y1="767.2" x2="1123.8" y2="767.2" stroke="#000" stroke-width="1.24" stroke-dasharray="14 4.5"/>
<rect x="1124.1" y="768.4" width="3.4" height="3.4" fill="#fff" stroke="#000" stroke-width="0.9" transform="rotate(-0 1125.8 770.1)"/>
<line x1="1031.39" y1="778.68" x2="1115" y2="813.32" stroke="#000" stroke-width="1.31"/>
<line x1="1034.73" y1="775.85" x2="1116.5" y2="809.71" stroke="#000" stroke-width="1.24" stroke-dasharray="14 4.5"/>
<rect x="1115.92" y="810.53" width="3.4" height="3.4" fill="#fff" stroke="#000" stroke-width="0.9" transform="rotate(22.5 1117.62 812.23)"/>
<line x1="1027.11" y1="784.04" x2="1091.11" y2="848.03" stroke="#000" stroke-width="1.31"/>
<line x1="1031.29" y1="782.69" x2="1093.86" y2="845.27" stroke="#000" stroke-width="1.24" stroke-dasharray="14 4.5"/>
<rect x="1092.24" y="846.33" width="3.4" height="3.4" fill="#fff" stroke="#000" stroke-width="0.9" transform="rotate(45 1093.94 848.03)"/>
<line x1="1021.11" y1="787.34" x2="1055.74" y2="870.95" stroke="#000" stroke-width="1.31"/>
<line x1="1025.48" y1="787.7" x2="1059.35" y2="869.46" stroke="#000" stroke-width="1.24" stroke-dasharray="14 4.5"/>
<rect x="1056.66" y="870.34" width="3.4" height="3.4" fill="#fff" stroke="#000" stroke-width="0.9" transform="rotate(67.5 1058.36 872.04)"/>
<line x1="1015.8" y1="788.1" x2="1015.8" y2="878.6" stroke="#000" stroke-width="1.31"/>
<line x1="1019.2" y1="790.1" x2="1019.2" y2="878.6" stroke="#000" stroke-width="1.24" stroke-dasharray="14 4.5"/>
<rect x="1014.6" y="878.9" width="3.4" height="3.4" fill="#fff" stroke="#000" stroke-width="0.9" transform="rotate(90 1016.3 880.6)"/>
<line x1="1007.72" y1="786.19" x2="973.08" y2="869.8" stroke="#000" stroke-width="1.31"/>
<line x1="1010.55" y1="789.53" x2="976.69" y2="871.3" stroke="#000" stroke-width="1.24" stroke-dasharray="14 4.5"/>
<rect x="972.47" y="870.72" width="3.4" height="3.4" fill="#fff" stroke="#000" stroke-width="0.9" transform="rotate(112.5 974.17 872.42)"/>
<line x1="1002.36" y1="781.91" x2="938.37" y2="845.91" stroke="#000" stroke-width="1.31"/>
<line x1="1003.71" y1="786.09" x2="941.13" y2="848.66" stroke="#000" stroke-width="1.24" stroke-dasharray="14 4.5"/>
<rect x="936.67" y="847.04" width="3.4" height="3.4" fill="#fff" stroke="#000" stroke-width="0.9" transform="rotate(135 938.37 848.74)"/>
<line x1="1015.8" y1="770.6" x2="1054" y2="732.5" stroke="#000" stroke-width="1.38"/>
<line x1="1070" y1="722.5" x2="1115.5" y2="670.9" stroke="#000" stroke-width="1.38"/>
<path d="M1054 732.5 L1057 720 L1068 730.5 L1070 722.5" fill="none" stroke="#000" stroke-width="1.66"/>
<line x1="1000.09" y1="777.11" x2="916.94" y2="811.55" stroke="#000" stroke-width="1.38"/>
<path d="M916.94 811.55 A107 107 0 0 0 940.14 846.26" fill="none" stroke="#000" stroke-width="1.38"/>
<path d="M945.15 790.86 A73.5 73.5 0 0 0 1005.57 843.38" fill="none" stroke="#000" stroke-width="1.38"/>
<path d="M986.42 839.82 L1005.57 843.38 L987.75 836.69 Z" fill="#000" stroke="#000" stroke-width="0.69"/>
<text transform="translate(928 792)" font-family="&quot;Liberation Sans&quot;, &quot;Noto Sans CJK SC&quot;, sans-serif" font-size="17" text-anchor="middle">上</text>
<text transform="translate(955 687.3)" font-family="&quot;Liberation Sans&quot;, &quot;Noto Sans CJK SC&quot;, sans-serif" font-size="21.5" text-anchor="middle" textLength="64.68" lengthAdjust="spacingAndGlyphs">±0.000</text>
<line x1="905" y1="693.8" x2="993.6" y2="693.8" stroke="#000" stroke-width="1.38"/>
<path d="M905 693.8 L934.5 693.8 L920.5 708.2 Z" fill="none" stroke="#000" stroke-width="1.38"/>
<circle cx="1192" cy="686.4" r="24.6" fill="none" stroke="#000" stroke-width="1.66"/>
<line x1="1167.4" y1="686.4" x2="1216.6" y2="686.4" stroke="#000" stroke-width="1.52"/>
<text transform="translate(1192 683.4) scale(1.5 1)" font-family="&quot;DejaVu Sans&quot;, &quot;Liberation Sans&quot;, sans-serif" font-size="21" text-anchor="middle">5</text>
<text transform="translate(1192 705.4) scale(0.45 1)" font-family="&quot;Liberation Serif&quot;, &quot;Noto Serif CJK SC&quot;, serif" font-size="24" text-anchor="middle" font-weight="bold">F24</text>
<line x1="1167.4" y1="686.4" x2="1141.4" y2="686.4" stroke="#000" stroke-width="1.38"/>
<line x1="1141.4" y1="686.4" x2="1115.5" y2="727" stroke="#000" stroke-width="1.38"/>
<text transform="translate(1144.5 898.4)" font-family="&quot;Liberation Sans&quot;, &quot;Noto Sans CJK SC&quot;, sans-serif" font-size="21.5" text-anchor="middle" textLength="24" lengthAdjust="spacingAndGlyphs">TB1</text>
<line x1="1108.1" y1="903.9" x2="1164.7" y2="903.9" stroke="#000" stroke-width="1.38"/>
<line x1="1108.1" y1="903.9" x2="1063.8" y2="841.5" stroke="#000" stroke-width="1.38"/>
<line x1="736.9" y1="645" x2="736.9" y2="896.6" stroke="#000" stroke-width="1.38"/>
<line x1="772.8" y1="645" x2="772.8" y2="896.6" stroke="#000" stroke-width="1.38"/>
<line x1="734.2" y1="642.3" x2="739.6" y2="647.7" stroke="#000" stroke-width="2.7"/>
<line x1="734.2" y1="767.9" x2="739.6" y2="773.3" stroke="#000" stroke-width="2.7"/>
<line x1="734.2" y1="893.9" x2="739.6" y2="899.3" stroke="#000" stroke-width="2.7"/>
<line x1="770.1" y1="642.3" x2="775.5" y2="647.7" stroke="#000" stroke-width="2.7"/>
<line x1="770.1" y1="656" x2="775.5" y2="661.4" stroke="#000" stroke-width="2.7"/>
<line x1="770.1" y1="750.9" x2="775.5" y2="756.3" stroke="#000" stroke-width="2.7"/>
<line x1="770.1" y1="786" x2="775.5" y2="791.4" stroke="#000" stroke-width="2.7"/>
<line x1="770.1" y1="880.2" x2="775.5" y2="885.6" stroke="#000" stroke-width="2.7"/>
<line x1="770.1" y1="893.9" x2="775.5" y2="899.3" stroke="#000" stroke-width="2.7"/>
<line x1="725.9" y1="645" x2="810.8" y2="645" stroke="#000" stroke-width="1.38"/>
<line x1="725.9" y1="896.6" x2="810.8" y2="896.6" stroke="#000" stroke-width="1.38"/>
<line x1="761" y1="658.7" x2="810.8" y2="658.7" stroke="#000" stroke-width="1.38"/>
<line x1="761" y1="753.6" x2="810.8" y2="753.6" stroke="#000" stroke-width="1.38"/>
<line x1="761" y1="788.7" x2="810.8" y2="788.7" stroke="#000" stroke-width="1.38"/>
<line x1="761" y1="882.9" x2="810.8" y2="882.9" stroke="#000" stroke-width="1.38"/>
<text transform="translate(766.5 620.6) rotate(-90)" font-family="&quot;Liberation Sans&quot;, &quot;Noto Sans CJK SC&quot;, sans-serif" font-size="21.5" text-anchor="middle" textLength="42.23" lengthAdjust="spacingAndGlyphs">170.5</text>
<text transform="translate(766.5 705.6) rotate(-90)" font-family="&quot;Liberation Sans&quot;, &quot;Noto Sans CJK SC&quot;, sans-serif" font-size="21.5" text-anchor="middle" textLength="27.3" lengthAdjust="spacingAndGlyphs">750</text>
<text transform="translate(766.5 770.2) rotate(-90)" font-family="&quot;Liberation Sans&quot;, &quot;Noto Sans CJK SC&quot;, sans-serif" font-size="21.5" text-anchor="middle" textLength="26.27" lengthAdjust="spacingAndGlyphs">159</text>
<text transform="translate(766.5 834.9) rotate(-90)" font-family="&quot;Liberation Sans&quot;, &quot;Noto Sans CJK SC&quot;, sans-serif" font-size="21.5" text-anchor="middle" textLength="27.3" lengthAdjust="spacingAndGlyphs">750</text>
<text transform="translate(766.5 914.3) rotate(-90)" font-family="&quot;Liberation Sans&quot;, &quot;Noto Sans CJK SC&quot;, sans-serif" font-size="21.5" text-anchor="middle" textLength="42.23" lengthAdjust="spacingAndGlyphs">170.5</text>
<text transform="translate(730.7 707.4) rotate(-90)" font-family="&quot;Liberation Sans&quot;, &quot;Noto Sans CJK SC&quot;, sans-serif" font-size="21.5" text-anchor="middle" textLength="36.05" lengthAdjust="spacingAndGlyphs">1000</text>
<text transform="translate(730.7 833) rotate(-90)" font-family="&quot;Liberation Sans&quot;, &quot;Noto Sans CJK SC&quot;, sans-serif" font-size="21.5" text-anchor="middle" textLength="36.05" lengthAdjust="spacingAndGlyphs">1000</text>
<text transform="translate(1025.6 990) scale(0.94 1)" font-family="&quot;Liberation Sans&quot;, &quot;Noto Sans CJK SC&quot;, sans-serif" font-size="36" text-anchor="middle">3−3</text>
<line x1="992.9" y1="1000.3" x2="1060.1" y2="1000.3" stroke="#000" stroke-width="3.2"/>
<line x1="833.4" y1="1015.1" x2="833.4" y2="1166" stroke="#000" stroke-width="3"/>
<line x1="831.9" y1="1016.9" x2="1647.4" y2="1015.9" stroke="#000" stroke-width="2.7"/>
<line x1="833.4" y1="1059.2" x2="1647.4" y2="1058.5" stroke="#000" stroke-width="2.6"/>
<line x1="833.4" y1="1129" x2="1646.4" y2="1129" stroke="#000" stroke-width="1.66"/>
<line x1="953.6" y1="1016.4" x2="953.6" y2="1058.8" stroke="#000" stroke-width="1.66"/>
<line x1="1071.8" y1="1016.4" x2="1071.8" y2="1058.8" stroke="#000" stroke-width="1.66"/>
<line x1="1169.8" y1="1016.4" x2="1169.8" y2="1058.8" stroke="#000" stroke-width="1.66"/>
<line x1="1262.9" y1="1016.4" x2="1262.9" y2="1058.8" stroke="#000" stroke-width="1.66"/>
<line x1="1377.2" y1="1016.4" x2="1377.2" y2="1058.8" stroke="#000" stroke-width="1.66"/>
<line x1="1444.1" y1="1016.4" x2="1444.1" y2="1058.8" stroke="#000" stroke-width="1.66"/>
<line x1="1555.9" y1="1016.4" x2="1555.9" y2="1058.8" stroke="#000" stroke-width="1.66"/>
<line x1="1424" y1="1058.8" x2="1424" y2="1166" stroke="#000" stroke-width="1.66"/>
<line x1="1493" y1="1058.8" x2="1493" y2="1166" stroke="#000" stroke-width="1.66"/>
<line x1="874.7" y1="1129" x2="874.7" y2="1166" stroke="#000" stroke-width="1.66"/>
<line x1="945.9" y1="1129" x2="945.9" y2="1166" stroke="#000" stroke-width="1.66"/>
<line x1="1030.4" y1="1129" x2="1030.4" y2="1166" stroke="#000" stroke-width="1.66"/>
<line x1="1071.8" y1="1129" x2="1071.8" y2="1166" stroke="#000" stroke-width="1.66"/>
<line x1="1142.6" y1="1129" x2="1142.6" y2="1166" stroke="#000" stroke-width="1.66"/>
<line x1="1227" y1="1129" x2="1227" y2="1166" stroke="#000" stroke-width="1.66"/>
<line x1="1267" y1="1129" x2="1267" y2="1166" stroke="#000" stroke-width="1.66"/>
<text transform="translate(895 1047)" font-family="&quot;Liberation Serif&quot;, &quot;Noto Serif CJK SC&quot;, serif" font-size="22" text-anchor="middle" letter-spacing="2">梯型号</text>
<text transform="translate(1010.5 1047) scale(0.75 1)" font-family="&quot;Liberation Serif&quot;, &quot;Noto Serif CJK SC&quot;, serif" font-size="23.5" text-anchor="middle" textLength="110.67" lengthAdjust="spacing" stroke="#000" stroke-width="0.4">ZWLT−27</text>
<text transform="translate(1119 1047)" font-family="&quot;Liberation Serif&quot;, &quot;Noto Serif CJK SC&quot;, serif" font-size="22" text-anchor="middle" letter-spacing="2">梯　高</text>
<text transform="translate(1214.6 1047.5) scale(0.7 1)" font-family="&quot;Liberation Serif&quot;, &quot;Noto Serif CJK SC&quot;, serif" font-size="26" text-anchor="middle" textLength="65.71" lengthAdjust="spacing" stroke="#000" stroke-width="0.5">2700</text>
<text transform="translate(1320 1047)" font-family="&quot;Liberation Serif&quot;, &quot;Noto Serif CJK SC&quot;, serif" font-size="22" text-anchor="middle" letter-spacing="2">踏步级</text>
<text transform="translate(1413 1047.5) scale(0.7 1)" font-family="&quot;Liberation Serif&quot;, &quot;Noto Serif CJK SC&quot;, serif" font-size="26" text-anchor="middle" textLength="27.86" lengthAdjust="spacing" stroke="#000" stroke-width="0.5">13</text>
<text transform="translate(1500 1047)" font-family="&quot;Liberation Serif&quot;, &quot;Noto Serif CJK SC&quot;, serif" font-size="22" text-anchor="middle" letter-spacing="2">踏步高</text>
<text transform="translate(1603 1047.5) scale(0.7 1)" font-family="&quot;Liberation Serif&quot;, &quot;Noto Serif CJK SC&quot;, serif" font-size="26" text-anchor="middle" textLength="100" lengthAdjust="spacing" stroke="#000" stroke-width="0.5">192.85</text>
<text transform="translate(1021.3 1110)" font-family="&quot;Liberation Sans&quot;, &quot;Noto Sans CJK SC&quot;, sans-serif" font-size="35.5" text-anchor="middle" font-weight="500" textLength="261.7" lengthAdjust="spacingAndGlyphs">中柱式钢螺旋梯</text>
<text transform="translate(1221.6 1109.5)" font-family="&quot;Liberation Sans&quot;, &quot;Noto Sans CJK SC&quot;, sans-serif" font-size="40" text-anchor="middle" textLength="131" lengthAdjust="spacingAndGlyphs">ZWLT−27</text>
<text transform="translate(1328.8 1110)" font-family="&quot;Liberation Sans&quot;, &quot;Noto Sans CJK SC&quot;, sans-serif" font-size="35.5" text-anchor="middle" font-weight="500" textLength="71.5" lengthAdjust="spacingAndGlyphs">简图</text>
<text transform="translate(1459 1102)" font-family="&quot;Liberation Serif&quot;, &quot;Noto Serif CJK SC&quot;, serif" font-size="19" text-anchor="middle" textLength="58" lengthAdjust="spacingAndGlyphs">图集号</text>
<text transform="translate(1573 1104.5) scale(0.72 1)" font-family="&quot;Liberation Serif&quot;, &quot;Noto Serif CJK SC&quot;, serif" font-size="26" text-anchor="middle" textLength="113.33" lengthAdjust="spacing" stroke="#000" stroke-width="0.5">15J401</text>
<text transform="translate(854.5 1155)" font-family="&quot;Liberation Serif&quot;, &quot;Noto Serif CJK SC&quot;, serif" font-size="19" text-anchor="middle" textLength="36" lengthAdjust="spacingAndGlyphs">审核</text>
<text transform="translate(910.5 1155)" font-family="&quot;Liberation Serif&quot;, &quot;Noto Serif CJK SC&quot;, serif" font-size="19" text-anchor="middle" textLength="56" lengthAdjust="spacingAndGlyphs">李正刚</text>
<text transform="translate(1051 1155)" font-family="&quot;Liberation Serif&quot;, &quot;Noto Serif CJK SC&quot;, serif" font-size="19" text-anchor="middle" textLength="36" lengthAdjust="spacingAndGlyphs">校对</text>
<text transform="translate(1107 1155)" font-family="&quot;Liberation Serif&quot;, &quot;Noto Serif CJK SC&quot;, serif" font-size="19" text-anchor="middle" textLength="56" lengthAdjust="spacingAndGlyphs">许　岩</text>
<text transform="translate(1247 1155)" font-family="&quot;Liberation Serif&quot;, &quot;Noto Serif CJK SC&quot;, serif" font-size="19" text-anchor="middle" textLength="36" lengthAdjust="spacingAndGlyphs">设计</text>
<text transform="translate(1303 1155)" font-family="&quot;Liberation Serif&quot;, &quot;Noto Serif CJK SC&quot;, serif" font-size="19" text-anchor="middle" textLength="56" lengthAdjust="spacingAndGlyphs">洪　森</text>
<text transform="translate(1458 1155)" font-family="&quot;Liberation Serif&quot;, &quot;Noto Serif CJK SC&quot;, serif" font-size="19" text-anchor="middle">页</text>
<text transform="translate(1570.5 1154.5) scale(0.75 1)" font-family="&quot;Liberation Serif&quot;, &quot;Noto Serif CJK SC&quot;, serif" font-size="25" text-anchor="middle" textLength="26.67" lengthAdjust="spacing" stroke="#000" stroke-width="0.4">F2</text>
<text transform="translate(985 1160) rotate(-10) skewX(-28) scale(0.72 1)" font-family="&quot;Liberation Sans&quot;, &quot;Noto Sans CJK SC&quot;, sans-serif" font-size="25" text-anchor="middle" font-weight="300">李正刚</text>
<text transform="translate(1186 1157) rotate(-6) skewX(-22)" font-family="&quot;Liberation Sans&quot;, &quot;Noto Sans CJK SC&quot;, sans-serif" font-size="24" text-anchor="middle" font-weight="300">许岩</text>
<text transform="translate(1381 1160) rotate(-7) skewX(-30) scale(1.15 1)" font-family="&quot;Liberation Sans&quot;, &quot;Noto Sans CJK SC&quot;, sans-serif" font-size="27" text-anchor="middle" font-weight="500">洪森</text>
</svg>
</body></html>
